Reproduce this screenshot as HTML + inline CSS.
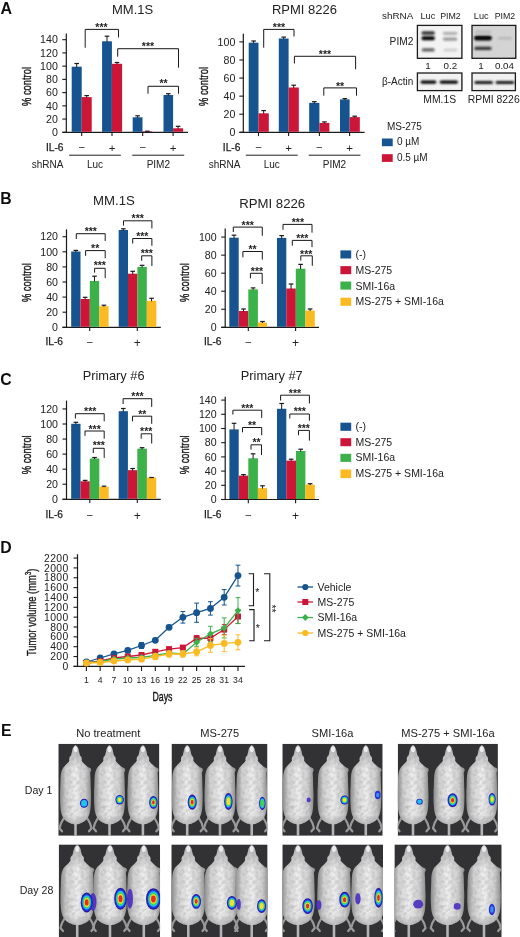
<!DOCTYPE html><html><head><meta charset="utf-8"><style>html,body{margin:0;padding:0;background:#fff;}svg{display:block;}text{font-family:"Liberation Sans", sans-serif;}</style></head><body>
<svg width="520" height="937" viewBox="0 0 520 937">
<rect width="520" height="937" fill="#fff"/>
<defs><filter id="gb" x="0" y="0" width="100%" height="100%" filterUnits="userSpaceOnUse"><feGaussianBlur stdDeviation="0.35"/></filter></defs>
<g filter="url(#gb)">
<text x="0.6" y="13.6" font-size="16" text-anchor="start" font-weight="bold" fill="#111" >A</text>
<text x="132.6" y="13.8" font-size="13" text-anchor="middle" font-weight="normal" fill="#222" >MM.1S</text>
<line x1="66.3" y1="33.5" x2="66.3" y2="132.9" stroke="#1a1a1a" stroke-width="1.2" />
<line x1="62.3" y1="132.3" x2="66.3" y2="132.3" stroke="#1a1a1a" stroke-width="1.1" />
<text x="57.8" y="136" font-size="10.6" text-anchor="end" font-weight="normal" fill="#222" letter-spacing="0">0</text>
<line x1="62.3" y1="119.07" x2="66.3" y2="119.07" stroke="#1a1a1a" stroke-width="1.1" />
<text x="57.8" y="122.77" font-size="10.6" text-anchor="end" font-weight="normal" fill="#222" letter-spacing="0">20</text>
<line x1="62.3" y1="105.84" x2="66.3" y2="105.84" stroke="#1a1a1a" stroke-width="1.1" />
<text x="57.8" y="109.54" font-size="10.6" text-anchor="end" font-weight="normal" fill="#222" letter-spacing="0">40</text>
<line x1="62.3" y1="92.61" x2="66.3" y2="92.61" stroke="#1a1a1a" stroke-width="1.1" />
<text x="57.8" y="96.31" font-size="10.6" text-anchor="end" font-weight="normal" fill="#222" letter-spacing="0">60</text>
<line x1="62.3" y1="79.38" x2="66.3" y2="79.38" stroke="#1a1a1a" stroke-width="1.1" />
<text x="57.8" y="83.08" font-size="10.6" text-anchor="end" font-weight="normal" fill="#222" letter-spacing="0">80</text>
<line x1="62.3" y1="66.15" x2="66.3" y2="66.15" stroke="#1a1a1a" stroke-width="1.1" />
<text x="57.8" y="69.85" font-size="10.6" text-anchor="end" font-weight="normal" fill="#222" letter-spacing="0">100</text>
<line x1="62.3" y1="52.92" x2="66.3" y2="52.92" stroke="#1a1a1a" stroke-width="1.1" />
<text x="57.8" y="56.62" font-size="10.6" text-anchor="end" font-weight="normal" fill="#222" letter-spacing="0">120</text>
<line x1="62.3" y1="39.69" x2="66.3" y2="39.69" stroke="#1a1a1a" stroke-width="1.1" />
<text x="57.8" y="43.39" font-size="10.6" text-anchor="end" font-weight="normal" fill="#222" letter-spacing="0">140</text>
<line x1="62.4" y1="132.3" x2="188" y2="132.3" stroke="#1a1a1a" stroke-width="1.2" />
<line x1="81.7" y1="132.3" x2="81.7" y2="136.1" stroke="#1a1a1a" stroke-width="1.1" />
<line x1="112" y1="132.3" x2="112" y2="136.1" stroke="#1a1a1a" stroke-width="1.1" />
<line x1="142.7" y1="132.3" x2="142.7" y2="136.1" stroke="#1a1a1a" stroke-width="1.1" />
<line x1="173.1" y1="132.3" x2="173.1" y2="136.1" stroke="#1a1a1a" stroke-width="1.1" />
<rect x="71.7" y="66.7" width="10" height="65.1" fill="#13538f" />
<line x1="76.7" y1="63.5" x2="76.7" y2="67.2" stroke="#1a1a1a" stroke-width="1" />
<line x1="74.4" y1="63.5" x2="79" y2="63.5" stroke="#1a1a1a" stroke-width="1.2" />
<rect x="81.7" y="97.1" width="10" height="34.7" fill="#cc1539" />
<line x1="86.7" y1="95.6" x2="86.7" y2="97.6" stroke="#1a1a1a" stroke-width="1" />
<line x1="84.4" y1="95.6" x2="89" y2="95.6" stroke="#1a1a1a" stroke-width="1.2" />
<rect x="102.1" y="41.3" width="9.8" height="90.5" fill="#13538f" />
<line x1="107" y1="36.2" x2="107" y2="41.8" stroke="#1a1a1a" stroke-width="1" />
<line x1="104.7" y1="36.2" x2="109.3" y2="36.2" stroke="#1a1a1a" stroke-width="1.2" />
<rect x="111.9" y="63.8" width="10.2" height="68" fill="#cc1539" />
<line x1="117" y1="62.5" x2="117" y2="64.3" stroke="#1a1a1a" stroke-width="1" />
<line x1="114.7" y1="62.5" x2="119.3" y2="62.5" stroke="#1a1a1a" stroke-width="1.2" />
<rect x="132.7" y="117.3" width="9.8" height="14.5" fill="#13538f" />
<line x1="137.6" y1="115.8" x2="137.6" y2="117.8" stroke="#1a1a1a" stroke-width="1" />
<line x1="135.3" y1="115.8" x2="139.9" y2="115.8" stroke="#1a1a1a" stroke-width="1.2" />
<rect x="142.5" y="131.2" width="9.8" height="0.6" fill="#cc1539" />
<line x1="145.1" y1="131.2" x2="149.7" y2="131.2" stroke="#1a1a1a" stroke-width="1.2" />
<rect x="163.5" y="95" width="9.6" height="36.8" fill="#13538f" />
<line x1="168.3" y1="93.7" x2="168.3" y2="95.5" stroke="#1a1a1a" stroke-width="1" />
<line x1="166" y1="93.7" x2="170.6" y2="93.7" stroke="#1a1a1a" stroke-width="1.2" />
<rect x="173.1" y="128.3" width="10" height="3.5" fill="#cc1539" />
<line x1="178.1" y1="126.3" x2="178.1" y2="128.8" stroke="#1a1a1a" stroke-width="1" />
<line x1="175.8" y1="126.3" x2="180.4" y2="126.3" stroke="#1a1a1a" stroke-width="1.2" />
<polyline points="85.2,47.7 85.2,29.4 118.5,29.4 118.5,37.5" fill="none" stroke="#1a1a1a" stroke-width="1"/>
<text x="101.5" y="30.7" font-size="10.5" text-anchor="middle" font-weight="bold" fill="#222" >***</text>
<polyline points="117.7,56.7 117.7,48.7 178.5,48.7 178.5,67.7" fill="none" stroke="#1a1a1a" stroke-width="1"/>
<text x="148" y="50.1" font-size="10.5" text-anchor="middle" font-weight="bold" fill="#222" >***</text>
<polyline points="148,93.7 148,86.3 178.5,86.3 178.5,93.7" fill="none" stroke="#1a1a1a" stroke-width="1"/>
<text x="163.5" y="87.1" font-size="10.5" text-anchor="middle" font-weight="bold" fill="#222" >**</text>
<text x="63.5" y="150.6" font-size="10.2" text-anchor="end" font-weight="normal" fill="#222" stroke="#1a1a1a" stroke-width="0.25">IL-6</text>
<text x="81.7" y="150.4" font-size="10" text-anchor="middle" font-weight="normal" fill="#222" >–</text>
<text x="142.7" y="150.4" font-size="10" text-anchor="middle" font-weight="normal" fill="#222" >–</text>
<text x="112" y="151.6" font-size="11.5" text-anchor="middle" font-weight="normal" fill="#222" >+</text>
<text x="173.1" y="151.6" font-size="11.5" text-anchor="middle" font-weight="normal" fill="#222" >+</text>
<line x1="69.2" y1="155.2" x2="120.8" y2="155.2" stroke="#1a1a1a" stroke-width="1" />
<line x1="132.3" y1="155.2" x2="184.2" y2="155.2" stroke="#1a1a1a" stroke-width="1" />
<text x="63.5" y="168" font-size="10" text-anchor="end" font-weight="normal" fill="#222" >shRNA</text>
<text x="95" y="168" font-size="10" text-anchor="middle" font-weight="normal" fill="#222" >Luc</text>
<text x="158.3" y="168" font-size="10" text-anchor="middle" font-weight="normal" fill="#222" >PIM2</text>
<text transform="translate(31,86.5) rotate(-90) scale(0.72,1)" font-size="13" text-anchor="middle" fill="#1a1a1a" stroke="#1a1a1a" stroke-width="0.4">% control</text>
<text x="304.4" y="13.8" font-size="13" text-anchor="middle" font-weight="normal" fill="#222" >RPMI 8226</text>
<line x1="243.3" y1="33.7" x2="243.3" y2="132.9" stroke="#1a1a1a" stroke-width="1.2" />
<line x1="239.3" y1="132.3" x2="243.3" y2="132.3" stroke="#1a1a1a" stroke-width="1.1" />
<text x="235.3" y="136" font-size="10.6" text-anchor="end" font-weight="normal" fill="#222" letter-spacing="0">0</text>
<line x1="239.3" y1="114.22" x2="243.3" y2="114.22" stroke="#1a1a1a" stroke-width="1.1" />
<text x="235.3" y="117.92" font-size="10.6" text-anchor="end" font-weight="normal" fill="#222" letter-spacing="0">20</text>
<line x1="239.3" y1="96.14" x2="243.3" y2="96.14" stroke="#1a1a1a" stroke-width="1.1" />
<text x="235.3" y="99.84" font-size="10.6" text-anchor="end" font-weight="normal" fill="#222" letter-spacing="0">40</text>
<line x1="239.3" y1="78.06" x2="243.3" y2="78.06" stroke="#1a1a1a" stroke-width="1.1" />
<text x="235.3" y="81.76" font-size="10.6" text-anchor="end" font-weight="normal" fill="#222" letter-spacing="0">60</text>
<line x1="239.3" y1="59.98" x2="243.3" y2="59.98" stroke="#1a1a1a" stroke-width="1.1" />
<text x="235.3" y="63.68" font-size="10.6" text-anchor="end" font-weight="normal" fill="#222" letter-spacing="0">80</text>
<line x1="239.3" y1="41.9" x2="243.3" y2="41.9" stroke="#1a1a1a" stroke-width="1.1" />
<text x="235.3" y="45.6" font-size="10.6" text-anchor="end" font-weight="normal" fill="#222" letter-spacing="0">100</text>
<line x1="239.4" y1="132.3" x2="364.6" y2="132.3" stroke="#1a1a1a" stroke-width="1.2" />
<line x1="258.5" y1="132.3" x2="258.5" y2="136.1" stroke="#1a1a1a" stroke-width="1.1" />
<line x1="288.6" y1="132.3" x2="288.6" y2="136.1" stroke="#1a1a1a" stroke-width="1.1" />
<line x1="319.4" y1="132.3" x2="319.4" y2="136.1" stroke="#1a1a1a" stroke-width="1.1" />
<line x1="349.6" y1="132.3" x2="349.6" y2="136.1" stroke="#1a1a1a" stroke-width="1.1" />
<rect x="248.7" y="42.7" width="9.8" height="89.1" fill="#13538f" />
<line x1="253.6" y1="41" x2="253.6" y2="43.2" stroke="#1a1a1a" stroke-width="1" />
<line x1="251.3" y1="41" x2="255.9" y2="41" stroke="#1a1a1a" stroke-width="1.2" />
<rect x="258.5" y="113.3" width="10.3" height="18.5" fill="#cc1539" />
<line x1="263.65" y1="110.6" x2="263.65" y2="113.8" stroke="#1a1a1a" stroke-width="1" />
<line x1="261.35" y1="110.6" x2="265.95" y2="110.6" stroke="#1a1a1a" stroke-width="1.2" />
<rect x="278.8" y="38.5" width="9.8" height="93.3" fill="#13538f" />
<line x1="283.7" y1="37.1" x2="283.7" y2="39" stroke="#1a1a1a" stroke-width="1" />
<line x1="281.4" y1="37.1" x2="286" y2="37.1" stroke="#1a1a1a" stroke-width="1.2" />
<rect x="288.6" y="87.5" width="10.2" height="44.3" fill="#cc1539" />
<line x1="293.7" y1="85.2" x2="293.7" y2="88" stroke="#1a1a1a" stroke-width="1" />
<line x1="291.4" y1="85.2" x2="296" y2="85.2" stroke="#1a1a1a" stroke-width="1.2" />
<rect x="309.2" y="102.9" width="10.2" height="28.9" fill="#13538f" />
<line x1="314.3" y1="101.7" x2="314.3" y2="103.4" stroke="#1a1a1a" stroke-width="1" />
<line x1="312" y1="101.7" x2="316.6" y2="101.7" stroke="#1a1a1a" stroke-width="1.2" />
<rect x="319.4" y="122.9" width="10" height="8.9" fill="#cc1539" />
<line x1="324.4" y1="121.9" x2="324.4" y2="123.4" stroke="#1a1a1a" stroke-width="1" />
<line x1="322.1" y1="121.9" x2="326.7" y2="121.9" stroke="#1a1a1a" stroke-width="1.2" />
<rect x="340" y="99.4" width="9.6" height="32.4" fill="#13538f" />
<line x1="344.8" y1="98.6" x2="344.8" y2="99.9" stroke="#1a1a1a" stroke-width="1" />
<line x1="342.5" y1="98.6" x2="347.1" y2="98.6" stroke="#1a1a1a" stroke-width="1.2" />
<rect x="349.6" y="117.1" width="10.2" height="14.7" fill="#cc1539" />
<line x1="354.7" y1="116.2" x2="354.7" y2="117.6" stroke="#1a1a1a" stroke-width="1" />
<line x1="352.4" y1="116.2" x2="357" y2="116.2" stroke="#1a1a1a" stroke-width="1.2" />
<polyline points="263.7,47.7 263.7,29.4 294,29.4 294,36.5" fill="none" stroke="#1a1a1a" stroke-width="1"/>
<text x="279" y="30.7" font-size="10.5" text-anchor="middle" font-weight="bold" fill="#222" >***</text>
<polyline points="294.4,63.5 294.4,56.3 355.6,56.3 355.6,69.2" fill="none" stroke="#1a1a1a" stroke-width="1"/>
<text x="325" y="57.8" font-size="10.5" text-anchor="middle" font-weight="bold" fill="#222" >***</text>
<polyline points="323.8,95.6 323.8,87.9 356.5,87.9 356.5,95.6" fill="none" stroke="#1a1a1a" stroke-width="1"/>
<text x="340" y="89.6" font-size="10.5" text-anchor="middle" font-weight="bold" fill="#222" >**</text>
<text x="240.4" y="150.6" font-size="10.2" text-anchor="end" font-weight="normal" fill="#222" stroke="#1a1a1a" stroke-width="0.25">IL-6</text>
<text x="258.5" y="150.4" font-size="10" text-anchor="middle" font-weight="normal" fill="#222" >–</text>
<text x="319.4" y="150.4" font-size="10" text-anchor="middle" font-weight="normal" fill="#222" >–</text>
<text x="288.6" y="151.6" font-size="11.5" text-anchor="middle" font-weight="normal" fill="#222" >+</text>
<text x="349.6" y="151.6" font-size="11.5" text-anchor="middle" font-weight="normal" fill="#222" >+</text>
<line x1="245.8" y1="155.2" x2="297.7" y2="155.2" stroke="#1a1a1a" stroke-width="1" />
<line x1="308.8" y1="155.2" x2="360.4" y2="155.2" stroke="#1a1a1a" stroke-width="1" />
<text x="240.4" y="168" font-size="10" text-anchor="end" font-weight="normal" fill="#222" >shRNA</text>
<text x="271.7" y="168" font-size="10" text-anchor="middle" font-weight="normal" fill="#222" >Luc</text>
<text x="334.4" y="168" font-size="10" text-anchor="middle" font-weight="normal" fill="#222" >PIM2</text>
<text transform="translate(207.8,86.5) rotate(-90) scale(0.72,1)" font-size="13" text-anchor="middle" fill="#1a1a1a" stroke="#1a1a1a" stroke-width="0.4">% control</text>
<text x="413.3" y="18.7" font-size="9.9" text-anchor="end" font-weight="normal" fill="#222" >shRNA</text>
<text x="427.9" y="18.7" font-size="9.2" text-anchor="middle" font-weight="normal" fill="#222" >Luc</text>
<text x="450.4" y="18.7" font-size="8.8" text-anchor="middle" font-weight="normal" fill="#222" >PIM2</text>
<text x="481.2" y="18.7" font-size="9.2" text-anchor="middle" font-weight="normal" fill="#222" >Luc</text>
<text x="505" y="18.7" font-size="8.8" text-anchor="middle" font-weight="normal" fill="#222" >PIM2</text>
<defs><filter id="bl" x="-20%" y="-80%" width="140%" height="260%"><feGaussianBlur stdDeviation="0.95 0.8"/></filter></defs>
<rect x="417.4" y="25.4" width="44.5" height="32.9" fill="#f3f3f3" stroke="#1a1a1a" stroke-width="1.3"/>
<rect x="472" y="25.4" width="43.8" height="32.9" fill="#d4d4d4" stroke="#1a1a1a" stroke-width="1.3"/>
<g filter="url(#bl)">
<rect x="421.5" y="31.4" width="13.4" height="3" rx="1.5" fill="#1a1a1a"/>
<rect x="421.5" y="36.2" width="13.4" height="4" rx="2" fill="#000"/>
<rect x="421.7" y="48.3" width="13" height="3.2" rx="1.6" fill="#606060"/>
<rect x="442.9" y="31.9" width="14.4" height="2.8" rx="1.4" fill="#a8a8a8"/>
<rect x="442.9" y="37.5" width="14.4" height="3.2" rx="1.6" fill="#989898"/>
<rect x="443.5" y="48.7" width="13.8" height="2.6" rx="1.3" fill="#cacaca"/>
<rect x="474.5" y="30" width="17" height="4" rx="2" fill="#c0c0c0"/>
<rect x="474.1" y="35.4" width="17.7" height="5" rx="2.5" fill="#000"/>
<rect x="474.3" y="46.7" width="17.3" height="3.4" rx="1.7" fill="#333"/>
<rect x="497.8" y="37" width="14" height="2.6" rx="1.3" fill="#b8b8b8"/>
</g>
<text x="428" y="69" font-size="9.8" text-anchor="middle" font-weight="normal" fill="#222" >1</text>
<text x="450.3" y="69" font-size="9.8" text-anchor="middle" font-weight="normal" fill="#222" >0.2</text>
<text x="480.9" y="69" font-size="9.8" text-anchor="middle" font-weight="normal" fill="#222" >1</text>
<text x="504.5" y="69" font-size="9.8" text-anchor="middle" font-weight="normal" fill="#222" >0.04</text>
<text x="413.4" y="44.9" font-size="10.2" text-anchor="end" font-weight="normal" fill="#222" >PIM2</text>
<rect x="417.4" y="73" width="44.5" height="17.6" fill="#f3f3f3" stroke="#1a1a1a" stroke-width="1.3"/>
<rect x="472" y="73" width="43.4" height="17.6" fill="#f0f0f0" stroke="#1a1a1a" stroke-width="1.3"/>
<g filter="url(#bl)">
<rect x="420.5" y="80.4" width="15.9" height="3.4" rx="1.7" fill="#050505"/>
<rect x="439.6" y="80.4" width="18.4" height="3.4" rx="1.7" fill="#050505"/>
<rect x="474.4" y="81" width="18.6" height="3" rx="1.5" fill="#161616"/>
<rect x="495.6" y="81" width="18.6" height="3" rx="1.5" fill="#161616"/>
</g>
<text x="413.3" y="85" font-size="10" text-anchor="end" font-weight="normal" fill="#222" >β-Actin</text>
<text x="439.7" y="102.7" font-size="10.4" text-anchor="middle" font-weight="normal" fill="#222" >MM.1S</text>
<text x="493.7" y="102.7" font-size="10.4" text-anchor="middle" font-weight="normal" fill="#222" >RPMI 8226</text>
<text x="386.9" y="129.8" font-size="10" text-anchor="start" font-weight="normal" fill="#222" >MS-275</text>
<rect x="381.9" y="138.5" width="10.8" height="7.7" fill="#13538f" />
<text x="396.9" y="145.2" font-size="10" text-anchor="start" font-weight="normal" fill="#222" >0 µM</text>
<rect x="381.9" y="154.2" width="10.8" height="7.7" fill="#cc1539" />
<text x="396.9" y="161.2" font-size="10" text-anchor="start" font-weight="normal" fill="#222" >0.5 µM</text>
<text x="0.2" y="204.4" font-size="15.8" text-anchor="start" font-weight="bold" fill="#111" >B</text>
<text x="113.9" y="204.8" font-size="13.2" text-anchor="middle" font-weight="normal" fill="#222" >MM.1S</text>
<line x1="66.5" y1="229.4" x2="66.5" y2="327.9" stroke="#1a1a1a" stroke-width="1.2" />
<line x1="62.5" y1="327.3" x2="66.5" y2="327.3" stroke="#1a1a1a" stroke-width="1.1" />
<text x="58" y="331" font-size="10.6" text-anchor="end" font-weight="normal" fill="#222" letter-spacing="0">0</text>
<line x1="62.5" y1="312.2" x2="66.5" y2="312.2" stroke="#1a1a1a" stroke-width="1.1" />
<text x="58" y="315.9" font-size="10.6" text-anchor="end" font-weight="normal" fill="#222" letter-spacing="0">20</text>
<line x1="62.5" y1="297.1" x2="66.5" y2="297.1" stroke="#1a1a1a" stroke-width="1.1" />
<text x="58" y="300.8" font-size="10.6" text-anchor="end" font-weight="normal" fill="#222" letter-spacing="0">40</text>
<line x1="62.5" y1="282" x2="66.5" y2="282" stroke="#1a1a1a" stroke-width="1.1" />
<text x="58" y="285.7" font-size="10.6" text-anchor="end" font-weight="normal" fill="#222" letter-spacing="0">60</text>
<line x1="62.5" y1="266.9" x2="66.5" y2="266.9" stroke="#1a1a1a" stroke-width="1.1" />
<text x="58" y="270.6" font-size="10.6" text-anchor="end" font-weight="normal" fill="#222" letter-spacing="0">80</text>
<line x1="62.5" y1="251.8" x2="66.5" y2="251.8" stroke="#1a1a1a" stroke-width="1.1" />
<text x="58" y="255.5" font-size="10.6" text-anchor="end" font-weight="normal" fill="#222" letter-spacing="0">100</text>
<line x1="62.5" y1="236.7" x2="66.5" y2="236.7" stroke="#1a1a1a" stroke-width="1.1" />
<text x="58" y="240.4" font-size="10.6" text-anchor="end" font-weight="normal" fill="#222" letter-spacing="0">120</text>
<line x1="62.5" y1="327.3" x2="160.8" y2="327.3" stroke="#1a1a1a" stroke-width="1.2" />
<line x1="89.7" y1="327.3" x2="89.7" y2="331.1" stroke="#1a1a1a" stroke-width="1.1" />
<line x1="137.3" y1="327.3" x2="137.3" y2="331.1" stroke="#1a1a1a" stroke-width="1.1" />
<rect x="71.2" y="251.5" width="9.3" height="75.3" fill="#13538f" />
<line x1="75.85" y1="250.4" x2="75.85" y2="252" stroke="#1a1a1a" stroke-width="1" />
<line x1="73.55" y1="250.4" x2="78.15" y2="250.4" stroke="#1a1a1a" stroke-width="1.2" />
<rect x="80.5" y="299" width="9.3" height="27.8" fill="#cc1539" />
<line x1="85.15" y1="297.3" x2="85.15" y2="299.5" stroke="#1a1a1a" stroke-width="1" />
<line x1="82.85" y1="297.3" x2="87.45" y2="297.3" stroke="#1a1a1a" stroke-width="1.2" />
<rect x="89.8" y="281" width="9.4" height="45.8" fill="#3cb14a" />
<line x1="94.5" y1="276.2" x2="94.5" y2="281.5" stroke="#1a1a1a" stroke-width="1" />
<line x1="92.2" y1="276.2" x2="96.8" y2="276.2" stroke="#1a1a1a" stroke-width="1.2" />
<rect x="99.2" y="306.2" width="9.4" height="20.6" fill="#fbba22" />
<line x1="103.9" y1="305.2" x2="103.9" y2="306.7" stroke="#1a1a1a" stroke-width="1" />
<line x1="101.6" y1="305.2" x2="106.2" y2="305.2" stroke="#1a1a1a" stroke-width="1.2" />
<rect x="118.7" y="230" width="9.3" height="96.8" fill="#13538f" />
<line x1="123.35" y1="228.8" x2="123.35" y2="230.5" stroke="#1a1a1a" stroke-width="1" />
<line x1="121.05" y1="228.8" x2="125.65" y2="228.8" stroke="#1a1a1a" stroke-width="1.2" />
<rect x="128" y="273.7" width="9.4" height="53.1" fill="#cc1539" />
<line x1="132.7" y1="271.3" x2="132.7" y2="274.2" stroke="#1a1a1a" stroke-width="1" />
<line x1="130.4" y1="271.3" x2="135" y2="271.3" stroke="#1a1a1a" stroke-width="1.2" />
<rect x="137.4" y="266.9" width="9.4" height="59.9" fill="#3cb14a" />
<line x1="142.1" y1="265.3" x2="142.1" y2="267.4" stroke="#1a1a1a" stroke-width="1" />
<line x1="139.8" y1="265.3" x2="144.4" y2="265.3" stroke="#1a1a1a" stroke-width="1.2" />
<rect x="146.8" y="300.8" width="9.5" height="26" fill="#fbba22" />
<line x1="151.55" y1="298.3" x2="151.55" y2="301.3" stroke="#1a1a1a" stroke-width="1" />
<line x1="149.25" y1="298.3" x2="153.85" y2="298.3" stroke="#1a1a1a" stroke-width="1.2" />
<polyline points="76.3,239 76.3,233.7 105.2,233.7 105.2,241" fill="none" stroke="#1a1a1a" stroke-width="1"/>
<text x="90.8" y="235.1" font-size="10.5" text-anchor="middle" font-weight="bold" fill="#222" >***</text>
<polyline points="85.6,255.8 85.6,250.6 105.2,250.6 105.2,258.3" fill="none" stroke="#1a1a1a" stroke-width="1"/>
<text x="95.2" y="252.1" font-size="10.5" text-anchor="middle" font-weight="bold" fill="#222" >**</text>
<polyline points="94.6,272.7 94.6,268.3 105.2,268.3 105.2,278.1" fill="none" stroke="#1a1a1a" stroke-width="1"/>
<text x="99.8" y="269.3" font-size="10.5" text-anchor="middle" font-weight="bold" fill="#222" >***</text>
<polyline points="123.5,225.6 123.5,220.8 151.9,220.8 151.9,228.5" fill="none" stroke="#1a1a1a" stroke-width="1"/>
<text x="137.7" y="222.3" font-size="10.5" text-anchor="middle" font-weight="bold" fill="#222" >***</text>
<polyline points="132.7,243.5 132.7,238.5 151.9,238.5 151.9,245.8" fill="none" stroke="#1a1a1a" stroke-width="1"/>
<text x="142.3" y="240" font-size="10.5" text-anchor="middle" font-weight="bold" fill="#222" >***</text>
<polyline points="141.7,260.8 141.7,255.8 151.9,255.8 151.9,266" fill="none" stroke="#1a1a1a" stroke-width="1"/>
<text x="146.8" y="257.3" font-size="10.5" text-anchor="middle" font-weight="bold" fill="#222" >***</text>
<text x="63" y="345.4" font-size="10.2" text-anchor="end" font-weight="normal" fill="#222" stroke="#1a1a1a" stroke-width="0.25">IL-6</text>
<text x="89.7" y="345.4" font-size="10" text-anchor="middle" font-weight="normal" fill="#222" >–</text>
<text x="137.3" y="346.9" font-size="12" text-anchor="middle" font-weight="normal" fill="#222" >+</text>
<text transform="translate(31,282.6) rotate(-90) scale(0.72,1)" font-size="13" text-anchor="middle" fill="#1a1a1a" stroke="#1a1a1a" stroke-width="0.4">% control</text>
<text x="272.2" y="207.6" font-size="13.2" text-anchor="middle" font-weight="normal" fill="#222" >RPMI 8226</text>
<line x1="225.2" y1="228.5" x2="225.2" y2="327.9" stroke="#1a1a1a" stroke-width="1.2" />
<line x1="221.2" y1="327.3" x2="225.2" y2="327.3" stroke="#1a1a1a" stroke-width="1.1" />
<text x="216.6" y="331" font-size="10.6" text-anchor="end" font-weight="normal" fill="#222" letter-spacing="0">0</text>
<line x1="221.2" y1="309.26" x2="225.2" y2="309.26" stroke="#1a1a1a" stroke-width="1.1" />
<text x="216.6" y="312.96" font-size="10.6" text-anchor="end" font-weight="normal" fill="#222" letter-spacing="0">20</text>
<line x1="221.2" y1="291.22" x2="225.2" y2="291.22" stroke="#1a1a1a" stroke-width="1.1" />
<text x="216.6" y="294.92" font-size="10.6" text-anchor="end" font-weight="normal" fill="#222" letter-spacing="0">40</text>
<line x1="221.2" y1="273.18" x2="225.2" y2="273.18" stroke="#1a1a1a" stroke-width="1.1" />
<text x="216.6" y="276.88" font-size="10.6" text-anchor="end" font-weight="normal" fill="#222" letter-spacing="0">60</text>
<line x1="221.2" y1="255.14" x2="225.2" y2="255.14" stroke="#1a1a1a" stroke-width="1.1" />
<text x="216.6" y="258.84" font-size="10.6" text-anchor="end" font-weight="normal" fill="#222" letter-spacing="0">80</text>
<line x1="221.2" y1="237.1" x2="225.2" y2="237.1" stroke="#1a1a1a" stroke-width="1.1" />
<text x="216.6" y="240.8" font-size="10.6" text-anchor="end" font-weight="normal" fill="#222" letter-spacing="0">100</text>
<line x1="221.2" y1="327.3" x2="319" y2="327.3" stroke="#1a1a1a" stroke-width="1.2" />
<line x1="248.3" y1="327.3" x2="248.3" y2="331.1" stroke="#1a1a1a" stroke-width="1.1" />
<line x1="295.6" y1="327.3" x2="295.6" y2="331.1" stroke="#1a1a1a" stroke-width="1.1" />
<rect x="229.3" y="237.7" width="9.4" height="89.1" fill="#13538f" />
<line x1="234" y1="235.2" x2="234" y2="238.2" stroke="#1a1a1a" stroke-width="1" />
<line x1="231.7" y1="235.2" x2="236.3" y2="235.2" stroke="#1a1a1a" stroke-width="1.2" />
<rect x="238.7" y="311" width="9.6" height="15.8" fill="#cc1539" />
<line x1="243.5" y1="309" x2="243.5" y2="311.5" stroke="#1a1a1a" stroke-width="1" />
<line x1="241.2" y1="309" x2="245.8" y2="309" stroke="#1a1a1a" stroke-width="1.2" />
<rect x="248.3" y="289.4" width="9.6" height="37.4" fill="#3cb14a" />
<line x1="253.1" y1="287.9" x2="253.1" y2="289.9" stroke="#1a1a1a" stroke-width="1" />
<line x1="250.8" y1="287.9" x2="255.4" y2="287.9" stroke="#1a1a1a" stroke-width="1.2" />
<rect x="257.9" y="322.5" width="9.2" height="4.3" fill="#fbba22" />
<line x1="262.5" y1="321.5" x2="262.5" y2="323" stroke="#1a1a1a" stroke-width="1" />
<line x1="260.2" y1="321.5" x2="264.8" y2="321.5" stroke="#1a1a1a" stroke-width="1.2" />
<rect x="277" y="237.9" width="9.3" height="88.9" fill="#13538f" />
<line x1="281.65" y1="235.6" x2="281.65" y2="238.4" stroke="#1a1a1a" stroke-width="1" />
<line x1="279.35" y1="235.6" x2="283.95" y2="235.6" stroke="#1a1a1a" stroke-width="1.2" />
<rect x="286.3" y="288.5" width="9.5" height="38.3" fill="#cc1539" />
<line x1="291.05" y1="284" x2="291.05" y2="289" stroke="#1a1a1a" stroke-width="1" />
<line x1="288.75" y1="284" x2="293.35" y2="284" stroke="#1a1a1a" stroke-width="1.2" />
<rect x="295.8" y="268.7" width="9.6" height="58.1" fill="#3cb14a" />
<line x1="300.6" y1="264.4" x2="300.6" y2="269.2" stroke="#1a1a1a" stroke-width="1" />
<line x1="298.3" y1="264.4" x2="302.9" y2="264.4" stroke="#1a1a1a" stroke-width="1.2" />
<rect x="305.4" y="310.6" width="9.4" height="16.2" fill="#fbba22" />
<line x1="310.1" y1="309" x2="310.1" y2="311.1" stroke="#1a1a1a" stroke-width="1" />
<line x1="307.8" y1="309" x2="312.4" y2="309" stroke="#1a1a1a" stroke-width="1.2" />
<polyline points="233.3,232 233.3,227.1 262.3,227.1 262.3,235.8" fill="none" stroke="#1a1a1a" stroke-width="1"/>
<text x="247.7" y="229" font-size="10.5" text-anchor="middle" font-weight="bold" fill="#222" >***</text>
<polyline points="242.9,257.3 242.9,251.5 262.3,251.5 262.3,259.6" fill="none" stroke="#1a1a1a" stroke-width="1"/>
<text x="252.5" y="253.4" font-size="10.5" text-anchor="middle" font-weight="bold" fill="#222" >**</text>
<polyline points="250.4,278.3 250.4,273.3 262.2,273.3 262.2,284" fill="none" stroke="#1a1a1a" stroke-width="1"/>
<text x="257" y="275.1" font-size="10.5" text-anchor="middle" font-weight="bold" fill="#222" >***</text>
<polyline points="283,229.8 283,224.4 312,224.4 312,232.7" fill="none" stroke="#1a1a1a" stroke-width="1"/>
<text x="297.9" y="226.1" font-size="10.5" text-anchor="middle" font-weight="bold" fill="#222" >***</text>
<polyline points="292.3,245.6 292.3,240.4 312,240.4 312,247.1" fill="none" stroke="#1a1a1a" stroke-width="1"/>
<text x="302.3" y="241.9" font-size="10.5" text-anchor="middle" font-weight="bold" fill="#222" >***</text>
<polyline points="300.8,260.6 300.8,255.8 312.3,255.8 312.3,265.8" fill="none" stroke="#1a1a1a" stroke-width="1"/>
<text x="306.2" y="257.6" font-size="10.5" text-anchor="middle" font-weight="bold" fill="#222" >***</text>
<text x="221.5" y="345.3" font-size="10.2" text-anchor="end" font-weight="normal" fill="#222" stroke="#1a1a1a" stroke-width="0.25">IL-6</text>
<text x="248.3" y="345.2" font-size="10" text-anchor="middle" font-weight="normal" fill="#222" >–</text>
<text x="295.6" y="346.9" font-size="12" text-anchor="middle" font-weight="normal" fill="#222" >+</text>
<text transform="translate(189.4,282.6) rotate(-90) scale(0.72,1)" font-size="13" text-anchor="middle" fill="#1a1a1a" stroke="#1a1a1a" stroke-width="0.4">% control</text>
<rect x="340.4" y="250.4" width="10.8" height="8.1" fill="#13538f" />
<text x="355.4" y="258" font-size="10.5" text-anchor="start" font-weight="normal" fill="#222" >(-)</text>
<rect x="340.4" y="266.1" width="10.8" height="8.1" fill="#cc1539" />
<text x="355.4" y="273.9" font-size="10.5" text-anchor="start" font-weight="normal" fill="#222" >MS-275</text>
<rect x="340.4" y="281.5" width="10.8" height="8.1" fill="#3cb14a" />
<text x="355.4" y="289.6" font-size="10.5" text-anchor="start" font-weight="normal" fill="#222" >SMI-16a</text>
<rect x="340.4" y="297.7" width="10.8" height="8.1" fill="#fbba22" />
<text x="355.4" y="305.1" font-size="10.5" text-anchor="start" font-weight="normal" fill="#222" >MS-275 + SMI-16a</text>
<text x="0.3" y="384.7" font-size="15.8" text-anchor="start" font-weight="bold" fill="#111" >C</text>
<text x="113.6" y="379.7" font-size="12.8" text-anchor="middle" font-weight="normal" fill="#222" >Primary #6</text>
<line x1="66.5" y1="400.6" x2="66.5" y2="499.9" stroke="#1a1a1a" stroke-width="1.2" />
<line x1="62.5" y1="499.3" x2="66.5" y2="499.3" stroke="#1a1a1a" stroke-width="1.1" />
<text x="58" y="503" font-size="10.6" text-anchor="end" font-weight="normal" fill="#222" letter-spacing="0">0</text>
<line x1="62.5" y1="484.24" x2="66.5" y2="484.24" stroke="#1a1a1a" stroke-width="1.1" />
<text x="58" y="487.94" font-size="10.6" text-anchor="end" font-weight="normal" fill="#222" letter-spacing="0">20</text>
<line x1="62.5" y1="469.18" x2="66.5" y2="469.18" stroke="#1a1a1a" stroke-width="1.1" />
<text x="58" y="472.88" font-size="10.6" text-anchor="end" font-weight="normal" fill="#222" letter-spacing="0">40</text>
<line x1="62.5" y1="454.12" x2="66.5" y2="454.12" stroke="#1a1a1a" stroke-width="1.1" />
<text x="58" y="457.82" font-size="10.6" text-anchor="end" font-weight="normal" fill="#222" letter-spacing="0">60</text>
<line x1="62.5" y1="439.06" x2="66.5" y2="439.06" stroke="#1a1a1a" stroke-width="1.1" />
<text x="58" y="442.76" font-size="10.6" text-anchor="end" font-weight="normal" fill="#222" letter-spacing="0">80</text>
<line x1="62.5" y1="424" x2="66.5" y2="424" stroke="#1a1a1a" stroke-width="1.1" />
<text x="58" y="427.7" font-size="10.6" text-anchor="end" font-weight="normal" fill="#222" letter-spacing="0">100</text>
<line x1="62.5" y1="408.94" x2="66.5" y2="408.94" stroke="#1a1a1a" stroke-width="1.1" />
<text x="58" y="412.64" font-size="10.6" text-anchor="end" font-weight="normal" fill="#222" letter-spacing="0">120</text>
<line x1="62.5" y1="499.3" x2="160.8" y2="499.3" stroke="#1a1a1a" stroke-width="1.2" />
<line x1="89.8" y1="499.3" x2="89.8" y2="503.1" stroke="#1a1a1a" stroke-width="1.1" />
<line x1="137.3" y1="499.3" x2="137.3" y2="503.1" stroke="#1a1a1a" stroke-width="1.1" />
<rect x="71.2" y="423.8" width="9.3" height="75" fill="#13538f" />
<line x1="75.85" y1="422.3" x2="75.85" y2="424.3" stroke="#1a1a1a" stroke-width="1" />
<line x1="73.55" y1="422.3" x2="78.15" y2="422.3" stroke="#1a1a1a" stroke-width="1.2" />
<rect x="80.5" y="481.3" width="9.3" height="17.5" fill="#cc1539" />
<line x1="85.15" y1="480.4" x2="85.15" y2="481.8" stroke="#1a1a1a" stroke-width="1" />
<line x1="82.85" y1="480.4" x2="87.45" y2="480.4" stroke="#1a1a1a" stroke-width="1.2" />
<rect x="89.8" y="458.5" width="9.5" height="40.3" fill="#3cb14a" />
<line x1="94.55" y1="457.5" x2="94.55" y2="459" stroke="#1a1a1a" stroke-width="1" />
<line x1="92.25" y1="457.5" x2="96.85" y2="457.5" stroke="#1a1a1a" stroke-width="1.2" />
<rect x="99.3" y="486.7" width="9.4" height="12.1" fill="#fbba22" />
<line x1="104" y1="486.2" x2="104" y2="487.2" stroke="#1a1a1a" stroke-width="1" />
<line x1="101.7" y1="486.2" x2="106.3" y2="486.2" stroke="#1a1a1a" stroke-width="1.2" />
<rect x="118.7" y="411.2" width="9.2" height="87.6" fill="#13538f" />
<line x1="123.3" y1="408.5" x2="123.3" y2="411.7" stroke="#1a1a1a" stroke-width="1" />
<line x1="121" y1="408.5" x2="125.6" y2="408.5" stroke="#1a1a1a" stroke-width="1.2" />
<rect x="127.9" y="470.2" width="9.4" height="28.6" fill="#cc1539" />
<line x1="132.6" y1="468.5" x2="132.6" y2="470.7" stroke="#1a1a1a" stroke-width="1" />
<line x1="130.3" y1="468.5" x2="134.9" y2="468.5" stroke="#1a1a1a" stroke-width="1.2" />
<rect x="137.3" y="448.7" width="9.6" height="50.1" fill="#3cb14a" />
<line x1="142.1" y1="447.7" x2="142.1" y2="449.2" stroke="#1a1a1a" stroke-width="1" />
<line x1="139.8" y1="447.7" x2="144.4" y2="447.7" stroke="#1a1a1a" stroke-width="1.2" />
<rect x="146.9" y="477.5" width="9.3" height="21.3" fill="#fbba22" />
<line x1="149.25" y1="477.5" x2="153.85" y2="477.5" stroke="#1a1a1a" stroke-width="1.2" />
<polyline points="75.4,418.5 75.4,413.7 104.2,413.7 104.2,421.3" fill="none" stroke="#1a1a1a" stroke-width="1"/>
<text x="90.2" y="415.1" font-size="10.5" text-anchor="middle" font-weight="bold" fill="#222" >***</text>
<polyline points="85,435.8 85,431 104.2,431 104.2,438.7" fill="none" stroke="#1a1a1a" stroke-width="1"/>
<text x="94.6" y="432.5" font-size="10.5" text-anchor="middle" font-weight="bold" fill="#222" >***</text>
<polyline points="93.3,453 93.3,448.3 104.2,448.3 104.2,457.9" fill="none" stroke="#1a1a1a" stroke-width="1"/>
<text x="98.8" y="449.4" font-size="10.5" text-anchor="middle" font-weight="bold" fill="#222" >***</text>
<polyline points="123.1,404 123.1,398.7 151.7,398.7 151.7,406.9" fill="none" stroke="#1a1a1a" stroke-width="1"/>
<text x="137.5" y="400.3" font-size="10.5" text-anchor="middle" font-weight="bold" fill="#222" >***</text>
<polyline points="132.5,421.3 132.5,416.2 151.7,416.2 151.7,423.8" fill="none" stroke="#1a1a1a" stroke-width="1"/>
<text x="142.3" y="418" font-size="10.5" text-anchor="middle" font-weight="bold" fill="#222" >**</text>
<polyline points="141.2,438.7 141.2,433.8 151.7,433.8 151.7,443.5" fill="none" stroke="#1a1a1a" stroke-width="1"/>
<text x="146.2" y="435.3" font-size="10.5" text-anchor="middle" font-weight="bold" fill="#222" >***</text>
<text x="63" y="518" font-size="10.2" text-anchor="end" font-weight="normal" fill="#222" stroke="#1a1a1a" stroke-width="0.25">IL-6</text>
<text x="89.8" y="518" font-size="10" text-anchor="middle" font-weight="normal" fill="#222" >–</text>
<text x="137.3" y="519.5" font-size="12" text-anchor="middle" font-weight="normal" fill="#222" >+</text>
<text transform="translate(31,454.8) rotate(-90) scale(0.72,1)" font-size="13" text-anchor="middle" fill="#1a1a1a" stroke="#1a1a1a" stroke-width="0.4">% control</text>
<text x="271.7" y="379.5" font-size="12.8" text-anchor="middle" font-weight="normal" fill="#222" >Primary #7</text>
<line x1="225.2" y1="396.7" x2="225.2" y2="500.1" stroke="#1a1a1a" stroke-width="1.2" />
<line x1="221.2" y1="499.5" x2="225.2" y2="499.5" stroke="#1a1a1a" stroke-width="1.1" />
<text x="216.6" y="503.2" font-size="10.6" text-anchor="end" font-weight="normal" fill="#222" letter-spacing="0">0</text>
<line x1="221.2" y1="485.3" x2="225.2" y2="485.3" stroke="#1a1a1a" stroke-width="1.1" />
<text x="216.6" y="489" font-size="10.6" text-anchor="end" font-weight="normal" fill="#222" letter-spacing="0">20</text>
<line x1="221.2" y1="471.1" x2="225.2" y2="471.1" stroke="#1a1a1a" stroke-width="1.1" />
<text x="216.6" y="474.8" font-size="10.6" text-anchor="end" font-weight="normal" fill="#222" letter-spacing="0">40</text>
<line x1="221.2" y1="456.9" x2="225.2" y2="456.9" stroke="#1a1a1a" stroke-width="1.1" />
<text x="216.6" y="460.6" font-size="10.6" text-anchor="end" font-weight="normal" fill="#222" letter-spacing="0">60</text>
<line x1="221.2" y1="442.7" x2="225.2" y2="442.7" stroke="#1a1a1a" stroke-width="1.1" />
<text x="216.6" y="446.4" font-size="10.6" text-anchor="end" font-weight="normal" fill="#222" letter-spacing="0">80</text>
<line x1="221.2" y1="428.5" x2="225.2" y2="428.5" stroke="#1a1a1a" stroke-width="1.1" />
<text x="216.6" y="432.2" font-size="10.6" text-anchor="end" font-weight="normal" fill="#222" letter-spacing="0">100</text>
<line x1="221.2" y1="414.3" x2="225.2" y2="414.3" stroke="#1a1a1a" stroke-width="1.1" />
<text x="216.6" y="418" font-size="10.6" text-anchor="end" font-weight="normal" fill="#222" letter-spacing="0">120</text>
<line x1="221.2" y1="400.1" x2="225.2" y2="400.1" stroke="#1a1a1a" stroke-width="1.1" />
<text x="216.6" y="403.8" font-size="10.6" text-anchor="end" font-weight="normal" fill="#222" letter-spacing="0">140</text>
<line x1="221.2" y1="499.5" x2="319" y2="499.5" stroke="#1a1a1a" stroke-width="1.2" />
<line x1="248.3" y1="499.5" x2="248.3" y2="503.3" stroke="#1a1a1a" stroke-width="1.1" />
<line x1="295.6" y1="499.5" x2="295.6" y2="503.3" stroke="#1a1a1a" stroke-width="1.1" />
<rect x="229.4" y="429.4" width="9.3" height="69.6" fill="#13538f" />
<line x1="234.05" y1="423.3" x2="234.05" y2="429.9" stroke="#1a1a1a" stroke-width="1" />
<line x1="231.75" y1="423.3" x2="236.35" y2="423.3" stroke="#1a1a1a" stroke-width="1.2" />
<rect x="238.7" y="475.6" width="9.6" height="23.4" fill="#cc1539" />
<line x1="243.5" y1="474.6" x2="243.5" y2="476.1" stroke="#1a1a1a" stroke-width="1" />
<line x1="241.2" y1="474.6" x2="245.8" y2="474.6" stroke="#1a1a1a" stroke-width="1.2" />
<rect x="248.3" y="458.3" width="9.6" height="40.7" fill="#3cb14a" />
<line x1="253.1" y1="453.8" x2="253.1" y2="458.8" stroke="#1a1a1a" stroke-width="1" />
<line x1="250.8" y1="453.8" x2="255.4" y2="453.8" stroke="#1a1a1a" stroke-width="1.2" />
<rect x="257.9" y="488.1" width="9.2" height="10.9" fill="#fbba22" />
<line x1="262.5" y1="485.8" x2="262.5" y2="488.6" stroke="#1a1a1a" stroke-width="1" />
<line x1="260.2" y1="485.8" x2="264.8" y2="485.8" stroke="#1a1a1a" stroke-width="1.2" />
<rect x="277" y="408.8" width="9.3" height="90.2" fill="#13538f" />
<line x1="281.65" y1="403.5" x2="281.65" y2="409.3" stroke="#1a1a1a" stroke-width="1" />
<line x1="279.35" y1="403.5" x2="283.95" y2="403.5" stroke="#1a1a1a" stroke-width="1.2" />
<rect x="286.3" y="460.6" width="9.7" height="38.4" fill="#cc1539" />
<line x1="291.15" y1="459.2" x2="291.15" y2="461.1" stroke="#1a1a1a" stroke-width="1" />
<line x1="288.85" y1="459.2" x2="293.45" y2="459.2" stroke="#1a1a1a" stroke-width="1.2" />
<rect x="296" y="451" width="9.4" height="48" fill="#3cb14a" />
<line x1="300.7" y1="449.2" x2="300.7" y2="451.5" stroke="#1a1a1a" stroke-width="1" />
<line x1="298.4" y1="449.2" x2="303" y2="449.2" stroke="#1a1a1a" stroke-width="1.2" />
<rect x="305.4" y="484.6" width="9.4" height="14.4" fill="#fbba22" />
<line x1="310.1" y1="483.7" x2="310.1" y2="485.1" stroke="#1a1a1a" stroke-width="1" />
<line x1="307.8" y1="483.7" x2="312.4" y2="483.7" stroke="#1a1a1a" stroke-width="1.2" />
<polyline points="232.9,414.6 232.9,410.2 261.7,410.2 261.7,417.9" fill="none" stroke="#1a1a1a" stroke-width="1"/>
<text x="247.3" y="411.7" font-size="10.5" text-anchor="middle" font-weight="bold" fill="#222" >***</text>
<polyline points="242.5,432.3 242.5,427.5 261.7,427.5 261.7,435.2" fill="none" stroke="#1a1a1a" stroke-width="1"/>
<text x="252.1" y="428.6" font-size="10.5" text-anchor="middle" font-weight="bold" fill="#222" >**</text>
<polyline points="251,449.6 251,444.8 261.5,444.8 261.5,455" fill="none" stroke="#1a1a1a" stroke-width="1"/>
<text x="256.5" y="446.3" font-size="10.5" text-anchor="middle" font-weight="bold" fill="#222" >**</text>
<polyline points="280.6,400.6 280.6,395.2 309.4,395.2 309.4,403.5" fill="none" stroke="#1a1a1a" stroke-width="1"/>
<text x="295" y="396.7" font-size="10.5" text-anchor="middle" font-weight="bold" fill="#222" >***</text>
<polyline points="289.8,418.5 289.8,414 309.4,414 309.4,420.8" fill="none" stroke="#1a1a1a" stroke-width="1"/>
<text x="299.8" y="414.6" font-size="10.5" text-anchor="middle" font-weight="bold" fill="#222" >***</text>
<polyline points="298.5,435.2 298.5,430.4 309.4,430.4 309.4,440.6" fill="none" stroke="#1a1a1a" stroke-width="1"/>
<text x="303.8" y="431.5" font-size="10.5" text-anchor="middle" font-weight="bold" fill="#222" >***</text>
<text x="221.5" y="517.8" font-size="10.2" text-anchor="end" font-weight="normal" fill="#222" stroke="#1a1a1a" stroke-width="0.25">IL-6</text>
<text x="248.3" y="517.8" font-size="10" text-anchor="middle" font-weight="normal" fill="#222" >–</text>
<text x="295.6" y="519.5" font-size="12" text-anchor="middle" font-weight="normal" fill="#222" >+</text>
<text transform="translate(189.4,454.8) rotate(-90) scale(0.72,1)" font-size="13" text-anchor="middle" fill="#1a1a1a" stroke="#1a1a1a" stroke-width="0.4">% control</text>
<rect x="340.4" y="422.7" width="10.8" height="8.1" fill="#13538f" />
<text x="355.4" y="430.3" font-size="10.5" text-anchor="start" font-weight="normal" fill="#222" >(-)</text>
<rect x="340.4" y="438.2" width="10.8" height="8" fill="#cc1539" />
<text x="355.4" y="445.8" font-size="10.5" text-anchor="start" font-weight="normal" fill="#222" >MS-275</text>
<rect x="340.4" y="453.8" width="10.8" height="8.1" fill="#3cb14a" />
<text x="355.4" y="461.2" font-size="10.5" text-anchor="start" font-weight="normal" fill="#222" >SMI-16a</text>
<rect x="340.4" y="469.5" width="10.8" height="8.6" fill="#fbba22" />
<text x="355.4" y="476.9" font-size="10.5" text-anchor="start" font-weight="normal" fill="#222" >MS-275 + SMI-16a</text>
<text x="0.2" y="553" font-size="15.8" text-anchor="start" font-weight="bold" fill="#111" >D</text>
<line x1="77.5" y1="554.2" x2="77.5" y2="667" stroke="#1a1a1a" stroke-width="1.2" />
<line x1="73.5" y1="666.4" x2="77.5" y2="666.4" stroke="#1a1a1a" stroke-width="1.1" />
<text x="68.7" y="670" font-size="10.4" text-anchor="end" font-weight="normal" fill="#222" letter-spacing="0.4">0</text>
<line x1="73.5" y1="656.55" x2="77.5" y2="656.55" stroke="#1a1a1a" stroke-width="1.1" />
<text x="68.7" y="660.15" font-size="10.4" text-anchor="end" font-weight="normal" fill="#222" letter-spacing="0.4">200</text>
<line x1="73.5" y1="646.7" x2="77.5" y2="646.7" stroke="#1a1a1a" stroke-width="1.1" />
<text x="68.7" y="650.3" font-size="10.4" text-anchor="end" font-weight="normal" fill="#222" letter-spacing="0.4">400</text>
<line x1="73.5" y1="636.85" x2="77.5" y2="636.85" stroke="#1a1a1a" stroke-width="1.1" />
<text x="68.7" y="640.45" font-size="10.4" text-anchor="end" font-weight="normal" fill="#222" letter-spacing="0.4">600</text>
<line x1="73.5" y1="627" x2="77.5" y2="627" stroke="#1a1a1a" stroke-width="1.1" />
<text x="68.7" y="630.6" font-size="10.4" text-anchor="end" font-weight="normal" fill="#222" letter-spacing="0.4">800</text>
<line x1="73.5" y1="617.15" x2="77.5" y2="617.15" stroke="#1a1a1a" stroke-width="1.1" />
<text x="68.7" y="620.75" font-size="10.4" text-anchor="end" font-weight="normal" fill="#222" letter-spacing="0.4">1000</text>
<line x1="73.5" y1="607.3" x2="77.5" y2="607.3" stroke="#1a1a1a" stroke-width="1.1" />
<text x="68.7" y="610.9" font-size="10.4" text-anchor="end" font-weight="normal" fill="#222" letter-spacing="0.4">1200</text>
<line x1="73.5" y1="597.45" x2="77.5" y2="597.45" stroke="#1a1a1a" stroke-width="1.1" />
<text x="68.7" y="601.05" font-size="10.4" text-anchor="end" font-weight="normal" fill="#222" letter-spacing="0.4">1400</text>
<line x1="73.5" y1="587.6" x2="77.5" y2="587.6" stroke="#1a1a1a" stroke-width="1.1" />
<text x="68.7" y="591.2" font-size="10.4" text-anchor="end" font-weight="normal" fill="#222" letter-spacing="0.4">1600</text>
<line x1="73.5" y1="577.75" x2="77.5" y2="577.75" stroke="#1a1a1a" stroke-width="1.1" />
<text x="68.7" y="581.35" font-size="10.4" text-anchor="end" font-weight="normal" fill="#222" letter-spacing="0.4">1800</text>
<line x1="73.5" y1="567.9" x2="77.5" y2="567.9" stroke="#1a1a1a" stroke-width="1.1" />
<text x="68.7" y="571.5" font-size="10.4" text-anchor="end" font-weight="normal" fill="#222" letter-spacing="0.4">2000</text>
<line x1="73.5" y1="558.05" x2="77.5" y2="558.05" stroke="#1a1a1a" stroke-width="1.1" />
<text x="68.7" y="561.65" font-size="10.4" text-anchor="end" font-weight="normal" fill="#222" letter-spacing="0.4">2200</text>
<line x1="73.5" y1="666.4" x2="245" y2="666.4" stroke="#1a1a1a" stroke-width="1.2" />
<line x1="86.4" y1="666.4" x2="86.4" y2="670.9" stroke="#1a1a1a" stroke-width="1.1" />
<text x="86.4" y="683" font-size="8.6" text-anchor="middle" font-weight="normal" fill="#222" letter-spacing="0.2">1</text>
<line x1="100.18" y1="666.4" x2="100.18" y2="670.9" stroke="#1a1a1a" stroke-width="1.1" />
<text x="100.18" y="683" font-size="8.6" text-anchor="middle" font-weight="normal" fill="#222" letter-spacing="0.2">4</text>
<line x1="113.96" y1="666.4" x2="113.96" y2="670.9" stroke="#1a1a1a" stroke-width="1.1" />
<text x="113.96" y="683" font-size="8.6" text-anchor="middle" font-weight="normal" fill="#222" letter-spacing="0.2">7</text>
<line x1="127.74" y1="666.4" x2="127.74" y2="670.9" stroke="#1a1a1a" stroke-width="1.1" />
<text x="127.74" y="683" font-size="8.6" text-anchor="middle" font-weight="normal" fill="#222" letter-spacing="0.2">10</text>
<line x1="141.52" y1="666.4" x2="141.52" y2="670.9" stroke="#1a1a1a" stroke-width="1.1" />
<text x="141.52" y="683" font-size="8.6" text-anchor="middle" font-weight="normal" fill="#222" letter-spacing="0.2">13</text>
<line x1="155.3" y1="666.4" x2="155.3" y2="670.9" stroke="#1a1a1a" stroke-width="1.1" />
<text x="155.3" y="683" font-size="8.6" text-anchor="middle" font-weight="normal" fill="#222" letter-spacing="0.2">16</text>
<line x1="169.08" y1="666.4" x2="169.08" y2="670.9" stroke="#1a1a1a" stroke-width="1.1" />
<text x="169.08" y="683" font-size="8.6" text-anchor="middle" font-weight="normal" fill="#222" letter-spacing="0.2">19</text>
<line x1="182.86" y1="666.4" x2="182.86" y2="670.9" stroke="#1a1a1a" stroke-width="1.1" />
<text x="182.86" y="683" font-size="8.6" text-anchor="middle" font-weight="normal" fill="#222" letter-spacing="0.2">22</text>
<line x1="196.64" y1="666.4" x2="196.64" y2="670.9" stroke="#1a1a1a" stroke-width="1.1" />
<text x="196.64" y="683" font-size="8.6" text-anchor="middle" font-weight="normal" fill="#222" letter-spacing="0.2">25</text>
<line x1="210.42" y1="666.4" x2="210.42" y2="670.9" stroke="#1a1a1a" stroke-width="1.1" />
<text x="210.42" y="683" font-size="8.6" text-anchor="middle" font-weight="normal" fill="#222" letter-spacing="0.2">28</text>
<line x1="224.2" y1="666.4" x2="224.2" y2="670.9" stroke="#1a1a1a" stroke-width="1.1" />
<text x="224.2" y="683" font-size="8.6" text-anchor="middle" font-weight="normal" fill="#222" letter-spacing="0.2">31</text>
<line x1="237.98" y1="666.4" x2="237.98" y2="670.9" stroke="#1a1a1a" stroke-width="1.1" />
<text x="237.98" y="683" font-size="8.6" text-anchor="middle" font-weight="normal" fill="#222" letter-spacing="0.2">34</text>
<text transform="translate(162.5,700.8) scale(0.72,1)" font-size="12.2" text-anchor="middle" fill="#1a1a1a" stroke="#1a1a1a" stroke-width="0.4">Days</text>
<text transform="translate(35.6,612.3) rotate(-90) scale(0.71,1)" font-size="13.2" text-anchor="middle" fill="#1a1a1a" stroke="#1a1a1a" stroke-width="0.35">Tumor volume (mm<tspan font-size="9" dy="-4.5">3</tspan><tspan dy="4.5">)</tspan></text>
<line x1="127.74" y1="648.9" x2="127.74" y2="651.9" stroke="#13538f" stroke-width="1" />
<line x1="125.34" y1="648.9" x2="130.14" y2="648.9" stroke="#13538f" stroke-width="1" />
<line x1="125.34" y1="651.9" x2="130.14" y2="651.9" stroke="#13538f" stroke-width="1" />
<line x1="141.52" y1="642.5" x2="141.52" y2="648.5" stroke="#13538f" stroke-width="1" />
<line x1="139.12" y1="642.5" x2="143.92" y2="642.5" stroke="#13538f" stroke-width="1" />
<line x1="139.12" y1="648.5" x2="143.92" y2="648.5" stroke="#13538f" stroke-width="1" />
<line x1="155.3" y1="638.3" x2="155.3" y2="642.3" stroke="#13538f" stroke-width="1" />
<line x1="152.9" y1="638.3" x2="157.7" y2="638.3" stroke="#13538f" stroke-width="1" />
<line x1="152.9" y1="642.3" x2="157.7" y2="642.3" stroke="#13538f" stroke-width="1" />
<line x1="169.08" y1="625.3" x2="169.08" y2="629.3" stroke="#13538f" stroke-width="1" />
<line x1="166.68" y1="625.3" x2="171.48" y2="625.3" stroke="#13538f" stroke-width="1" />
<line x1="166.68" y1="629.3" x2="171.48" y2="629.3" stroke="#13538f" stroke-width="1" />
<line x1="182.86" y1="611.5" x2="182.86" y2="623.1" stroke="#13538f" stroke-width="1" />
<line x1="180.46" y1="611.5" x2="185.26" y2="611.5" stroke="#13538f" stroke-width="1" />
<line x1="180.46" y1="623.1" x2="185.26" y2="623.1" stroke="#13538f" stroke-width="1" />
<line x1="196.64" y1="603.1" x2="196.64" y2="622.3" stroke="#13538f" stroke-width="1" />
<line x1="194.24" y1="603.1" x2="199.04" y2="603.1" stroke="#13538f" stroke-width="1" />
<line x1="194.24" y1="622.3" x2="199.04" y2="622.3" stroke="#13538f" stroke-width="1" />
<line x1="210.42" y1="601.7" x2="210.42" y2="615.1" stroke="#13538f" stroke-width="1" />
<line x1="208.02" y1="601.7" x2="212.82" y2="601.7" stroke="#13538f" stroke-width="1" />
<line x1="208.02" y1="615.1" x2="212.82" y2="615.1" stroke="#13538f" stroke-width="1" />
<line x1="224.2" y1="589.6" x2="224.2" y2="605" stroke="#13538f" stroke-width="1" />
<line x1="221.8" y1="589.6" x2="226.6" y2="589.6" stroke="#13538f" stroke-width="1" />
<line x1="221.8" y1="605" x2="226.6" y2="605" stroke="#13538f" stroke-width="1" />
<line x1="237.98" y1="565.2" x2="237.98" y2="586" stroke="#13538f" stroke-width="1" />
<line x1="235.58" y1="565.2" x2="240.38" y2="565.2" stroke="#13538f" stroke-width="1" />
<line x1="235.58" y1="586" x2="240.38" y2="586" stroke="#13538f" stroke-width="1" />
<polyline points="86.4,662 100.18,658 113.96,653.8 127.74,650.4 141.52,645.5 155.3,640.3 169.08,627.3 182.86,617.3 196.64,612.7 210.42,608.4 224.2,597.3 237.98,575.6" fill="none" stroke="#13538f" stroke-width="1.3"/>
<circle cx="86.4" cy="662" r="3.4" fill="#13538f"/>
<circle cx="100.18" cy="658" r="3.4" fill="#13538f"/>
<circle cx="113.96" cy="653.8" r="3.4" fill="#13538f"/>
<circle cx="127.74" cy="650.4" r="3.4" fill="#13538f"/>
<circle cx="141.52" cy="645.5" r="3.4" fill="#13538f"/>
<circle cx="155.3" cy="640.3" r="3.4" fill="#13538f"/>
<circle cx="169.08" cy="627.3" r="3.4" fill="#13538f"/>
<circle cx="182.86" cy="617.3" r="3.4" fill="#13538f"/>
<circle cx="196.64" cy="612.7" r="3.4" fill="#13538f"/>
<circle cx="210.42" cy="608.4" r="3.4" fill="#13538f"/>
<circle cx="224.2" cy="597.3" r="3.4" fill="#13538f"/>
<circle cx="237.98" cy="575.6" r="3.4" fill="#13538f"/>
<line x1="141.52" y1="653.5" x2="141.52" y2="656.5" stroke="#cc1539" stroke-width="1" />
<line x1="139.12" y1="653.5" x2="143.92" y2="653.5" stroke="#cc1539" stroke-width="1" />
<line x1="139.12" y1="656.5" x2="143.92" y2="656.5" stroke="#cc1539" stroke-width="1" />
<line x1="155.3" y1="650.3" x2="155.3" y2="653.3" stroke="#cc1539" stroke-width="1" />
<line x1="152.9" y1="650.3" x2="157.7" y2="650.3" stroke="#cc1539" stroke-width="1" />
<line x1="152.9" y1="653.3" x2="157.7" y2="653.3" stroke="#cc1539" stroke-width="1" />
<line x1="169.08" y1="647.6" x2="169.08" y2="650.6" stroke="#cc1539" stroke-width="1" />
<line x1="166.68" y1="647.6" x2="171.48" y2="647.6" stroke="#cc1539" stroke-width="1" />
<line x1="166.68" y1="650.6" x2="171.48" y2="650.6" stroke="#cc1539" stroke-width="1" />
<line x1="182.86" y1="646.1" x2="182.86" y2="649.1" stroke="#cc1539" stroke-width="1" />
<line x1="180.46" y1="646.1" x2="185.26" y2="646.1" stroke="#cc1539" stroke-width="1" />
<line x1="180.46" y1="649.1" x2="185.26" y2="649.1" stroke="#cc1539" stroke-width="1" />
<line x1="196.64" y1="635.5" x2="196.64" y2="641.5" stroke="#cc1539" stroke-width="1" />
<line x1="194.24" y1="635.5" x2="199.04" y2="635.5" stroke="#cc1539" stroke-width="1" />
<line x1="194.24" y1="641.5" x2="199.04" y2="641.5" stroke="#cc1539" stroke-width="1" />
<line x1="210.42" y1="634" x2="210.42" y2="642" stroke="#cc1539" stroke-width="1" />
<line x1="208.02" y1="634" x2="212.82" y2="634" stroke="#cc1539" stroke-width="1" />
<line x1="208.02" y1="642" x2="212.82" y2="642" stroke="#cc1539" stroke-width="1" />
<line x1="224.2" y1="624.6" x2="224.2" y2="634.6" stroke="#cc1539" stroke-width="1" />
<line x1="221.8" y1="624.6" x2="226.6" y2="624.6" stroke="#cc1539" stroke-width="1" />
<line x1="221.8" y1="634.6" x2="226.6" y2="634.6" stroke="#cc1539" stroke-width="1" />
<line x1="237.98" y1="609.5" x2="237.98" y2="623.5" stroke="#cc1539" stroke-width="1" />
<line x1="235.58" y1="609.5" x2="240.38" y2="609.5" stroke="#cc1539" stroke-width="1" />
<line x1="235.58" y1="623.5" x2="240.38" y2="623.5" stroke="#cc1539" stroke-width="1" />
<polyline points="86.4,663 100.18,661 113.96,658 127.74,656.5 141.52,655 155.3,651.8 169.08,649.1 182.86,647.6 196.64,638.5 210.42,638 224.2,629.6 237.98,616.5" fill="none" stroke="#cc1539" stroke-width="1.3"/>
<rect x="83.4" y="660" width="6" height="6" fill="#cc1539" />
<rect x="97.18" y="658" width="6" height="6" fill="#cc1539" />
<rect x="110.96" y="655" width="6" height="6" fill="#cc1539" />
<rect x="124.74" y="653.5" width="6" height="6" fill="#cc1539" />
<rect x="138.52" y="652" width="6" height="6" fill="#cc1539" />
<rect x="152.3" y="648.8" width="6" height="6" fill="#cc1539" />
<rect x="166.08" y="646.1" width="6" height="6" fill="#cc1539" />
<rect x="179.86" y="644.6" width="6" height="6" fill="#cc1539" />
<rect x="193.64" y="635.5" width="6" height="6" fill="#cc1539" />
<rect x="207.42" y="635" width="6" height="6" fill="#cc1539" />
<rect x="221.2" y="626.6" width="6" height="6" fill="#cc1539" />
<rect x="234.98" y="613.5" width="6" height="6" fill="#cc1539" />
<line x1="141.52" y1="656" x2="141.52" y2="659" stroke="#3cb14a" stroke-width="1" />
<line x1="139.12" y1="656" x2="143.92" y2="656" stroke="#3cb14a" stroke-width="1" />
<line x1="139.12" y1="659" x2="143.92" y2="659" stroke="#3cb14a" stroke-width="1" />
<line x1="155.3" y1="653.9" x2="155.3" y2="656.9" stroke="#3cb14a" stroke-width="1" />
<line x1="152.9" y1="653.9" x2="157.7" y2="653.9" stroke="#3cb14a" stroke-width="1" />
<line x1="152.9" y1="656.9" x2="157.7" y2="656.9" stroke="#3cb14a" stroke-width="1" />
<line x1="169.08" y1="651.4" x2="169.08" y2="654.4" stroke="#3cb14a" stroke-width="1" />
<line x1="166.68" y1="651.4" x2="171.48" y2="651.4" stroke="#3cb14a" stroke-width="1" />
<line x1="166.68" y1="654.4" x2="171.48" y2="654.4" stroke="#3cb14a" stroke-width="1" />
<line x1="182.86" y1="652.5" x2="182.86" y2="655.5" stroke="#3cb14a" stroke-width="1" />
<line x1="180.46" y1="652.5" x2="185.26" y2="652.5" stroke="#3cb14a" stroke-width="1" />
<line x1="180.46" y1="655.5" x2="185.26" y2="655.5" stroke="#3cb14a" stroke-width="1" />
<line x1="196.64" y1="638.3" x2="196.64" y2="646.3" stroke="#3cb14a" stroke-width="1" />
<line x1="194.24" y1="638.3" x2="199.04" y2="638.3" stroke="#3cb14a" stroke-width="1" />
<line x1="194.24" y1="646.3" x2="199.04" y2="646.3" stroke="#3cb14a" stroke-width="1" />
<line x1="210.42" y1="626.3" x2="210.42" y2="641.3" stroke="#3cb14a" stroke-width="1" />
<line x1="208.02" y1="626.3" x2="212.82" y2="626.3" stroke="#3cb14a" stroke-width="1" />
<line x1="208.02" y1="641.3" x2="212.82" y2="641.3" stroke="#3cb14a" stroke-width="1" />
<line x1="224.2" y1="617.9" x2="224.2" y2="637.9" stroke="#3cb14a" stroke-width="1" />
<line x1="221.8" y1="617.9" x2="226.6" y2="617.9" stroke="#3cb14a" stroke-width="1" />
<line x1="221.8" y1="637.9" x2="226.6" y2="637.9" stroke="#3cb14a" stroke-width="1" />
<line x1="237.98" y1="597.6" x2="237.98" y2="623.6" stroke="#3cb14a" stroke-width="1" />
<line x1="235.58" y1="597.6" x2="240.38" y2="597.6" stroke="#3cb14a" stroke-width="1" />
<line x1="235.58" y1="623.6" x2="240.38" y2="623.6" stroke="#3cb14a" stroke-width="1" />
<polyline points="86.4,663 100.18,661.5 113.96,659 127.74,658 141.52,657.5 155.3,655.4 169.08,652.9 182.86,654 196.64,642.3 210.42,633.8 224.2,627.9 237.98,610.6" fill="none" stroke="#3cb14a" stroke-width="1.3"/>
<polygon points="86.4,659.6 89.8,663 86.4,666.4 83,663" fill="#3cb14a"/>
<polygon points="100.18,658.1 103.58,661.5 100.18,664.9 96.78,661.5" fill="#3cb14a"/>
<polygon points="113.96,655.6 117.36,659 113.96,662.4 110.56,659" fill="#3cb14a"/>
<polygon points="127.74,654.6 131.14,658 127.74,661.4 124.34,658" fill="#3cb14a"/>
<polygon points="141.52,654.1 144.92,657.5 141.52,660.9 138.12,657.5" fill="#3cb14a"/>
<polygon points="155.3,652 158.7,655.4 155.3,658.8 151.9,655.4" fill="#3cb14a"/>
<polygon points="169.08,649.5 172.48,652.9 169.08,656.3 165.68,652.9" fill="#3cb14a"/>
<polygon points="182.86,650.6 186.26,654 182.86,657.4 179.46,654" fill="#3cb14a"/>
<polygon points="196.64,638.9 200.04,642.3 196.64,645.7 193.24,642.3" fill="#3cb14a"/>
<polygon points="210.42,630.4 213.82,633.8 210.42,637.2 207.02,633.8" fill="#3cb14a"/>
<polygon points="224.2,624.5 227.6,627.9 224.2,631.3 220.8,627.9" fill="#3cb14a"/>
<polygon points="237.98,607.2 241.38,610.6 237.98,614 234.58,610.6" fill="#3cb14a"/>
<line x1="113.96" y1="660" x2="113.96" y2="662" stroke="#fbba22" stroke-width="1" />
<line x1="111.56" y1="660" x2="116.36" y2="660" stroke="#fbba22" stroke-width="1" />
<line x1="111.56" y1="662" x2="116.36" y2="662" stroke="#fbba22" stroke-width="1" />
<line x1="127.74" y1="659" x2="127.74" y2="661" stroke="#fbba22" stroke-width="1" />
<line x1="125.34" y1="659" x2="130.14" y2="659" stroke="#fbba22" stroke-width="1" />
<line x1="125.34" y1="661" x2="130.14" y2="661" stroke="#fbba22" stroke-width="1" />
<line x1="141.52" y1="657.7" x2="141.52" y2="660.7" stroke="#fbba22" stroke-width="1" />
<line x1="139.12" y1="657.7" x2="143.92" y2="657.7" stroke="#fbba22" stroke-width="1" />
<line x1="139.12" y1="660.7" x2="143.92" y2="660.7" stroke="#fbba22" stroke-width="1" />
<line x1="155.3" y1="653.7" x2="155.3" y2="659.7" stroke="#fbba22" stroke-width="1" />
<line x1="152.9" y1="653.7" x2="157.7" y2="653.7" stroke="#fbba22" stroke-width="1" />
<line x1="152.9" y1="659.7" x2="157.7" y2="659.7" stroke="#fbba22" stroke-width="1" />
<line x1="169.08" y1="651" x2="169.08" y2="657" stroke="#fbba22" stroke-width="1" />
<line x1="166.68" y1="651" x2="171.48" y2="651" stroke="#fbba22" stroke-width="1" />
<line x1="166.68" y1="657" x2="171.48" y2="657" stroke="#fbba22" stroke-width="1" />
<line x1="182.86" y1="651" x2="182.86" y2="657" stroke="#fbba22" stroke-width="1" />
<line x1="180.46" y1="651" x2="185.26" y2="651" stroke="#fbba22" stroke-width="1" />
<line x1="180.46" y1="657" x2="185.26" y2="657" stroke="#fbba22" stroke-width="1" />
<line x1="196.64" y1="647.8" x2="196.64" y2="655.8" stroke="#fbba22" stroke-width="1" />
<line x1="194.24" y1="647.8" x2="199.04" y2="647.8" stroke="#fbba22" stroke-width="1" />
<line x1="194.24" y1="655.8" x2="199.04" y2="655.8" stroke="#fbba22" stroke-width="1" />
<line x1="210.42" y1="638.7" x2="210.42" y2="652.3" stroke="#fbba22" stroke-width="1" />
<line x1="208.02" y1="638.7" x2="212.82" y2="638.7" stroke="#fbba22" stroke-width="1" />
<line x1="208.02" y1="652.3" x2="212.82" y2="652.3" stroke="#fbba22" stroke-width="1" />
<line x1="224.2" y1="635.1" x2="224.2" y2="651.7" stroke="#fbba22" stroke-width="1" />
<line x1="221.8" y1="635.1" x2="226.6" y2="635.1" stroke="#fbba22" stroke-width="1" />
<line x1="221.8" y1="651.7" x2="226.6" y2="651.7" stroke="#fbba22" stroke-width="1" />
<line x1="237.98" y1="634.8" x2="237.98" y2="649.8" stroke="#fbba22" stroke-width="1" />
<line x1="235.58" y1="634.8" x2="240.38" y2="634.8" stroke="#fbba22" stroke-width="1" />
<line x1="235.58" y1="649.8" x2="240.38" y2="649.8" stroke="#fbba22" stroke-width="1" />
<polyline points="86.4,663 100.18,662.5 113.96,661 127.74,660 141.52,659.2 155.3,656.7 169.08,654 182.86,654 196.64,651.8 210.42,645.5 224.2,643.4 237.98,642.3" fill="none" stroke="#fbba22" stroke-width="1.3"/>
<circle cx="86.4" cy="663" r="3.4" fill="#fbba22"/>
<circle cx="100.18" cy="662.5" r="3.4" fill="#fbba22"/>
<circle cx="113.96" cy="661" r="3.4" fill="#fbba22"/>
<circle cx="127.74" cy="660" r="3.4" fill="#fbba22"/>
<circle cx="141.52" cy="659.2" r="3.4" fill="#fbba22"/>
<circle cx="155.3" cy="656.7" r="3.4" fill="#fbba22"/>
<circle cx="169.08" cy="654" r="3.4" fill="#fbba22"/>
<circle cx="182.86" cy="654" r="3.4" fill="#fbba22"/>
<circle cx="196.64" cy="651.8" r="3.4" fill="#fbba22"/>
<circle cx="210.42" cy="645.5" r="3.4" fill="#fbba22"/>
<circle cx="224.2" cy="643.4" r="3.4" fill="#fbba22"/>
<circle cx="237.98" cy="642.3" r="3.4" fill="#fbba22"/>
<polyline points="248.7,573.8 253.5,573.8 253.5,605.8 248.7,605.8" fill="none" stroke="#1a1a1a" stroke-width="1.1"/>
<text x="257.2" y="596.1" font-size="10.5" text-anchor="middle" font-weight="normal" fill="#222" >*</text>
<polyline points="249.2,609.6 254,609.6 254,640.8 249.2,640.8" fill="none" stroke="#1a1a1a" stroke-width="1.1"/>
<text x="257.8" y="631.7" font-size="10.5" text-anchor="middle" font-weight="normal" fill="#222" >*</text>
<polyline points="264,573.8 269.8,573.8 269.8,640.8 264,640.8" fill="none" stroke="#1a1a1a" stroke-width="1.1"/>
<text transform="translate(268.3,608.5) rotate(90)" font-size="10.5" text-anchor="middle" fill="#1a1a1a">**</text>
<line x1="297.5" y1="587" x2="313" y2="587" stroke="#13538f" stroke-width="1.3" />
<circle cx="305.3" cy="587" r="3.1" fill="#13538f"/>
<text x="317.5" y="590.6" font-size="10.5" text-anchor="start" font-weight="normal" fill="#222" >Vehicle</text>
<line x1="297.5" y1="602" x2="313" y2="602" stroke="#cc1539" stroke-width="1.3" />
<rect x="302.3" y="599" width="6" height="6" fill="#cc1539" />
<text x="317.5" y="605.6" font-size="10.5" text-anchor="start" font-weight="normal" fill="#222" >MS-275</text>
<line x1="297.5" y1="617.5" x2="313" y2="617.5" stroke="#3cb14a" stroke-width="1.3" />
<polygon points="305.3,614.1 308.7,617.5 305.3,620.9 301.9,617.5" fill="#3cb14a"/>
<text x="317.5" y="621" font-size="10.5" text-anchor="start" font-weight="normal" fill="#222" >SMI-16a</text>
<line x1="297.5" y1="633" x2="313" y2="633" stroke="#fbba22" stroke-width="1.3" />
<circle cx="305.3" cy="633" r="3.1" fill="#fbba22"/>
<text x="317.5" y="636.6" font-size="10.5" text-anchor="start" font-weight="normal" fill="#222" >MS-275 + SMI-16a</text>
<text x="1" y="736.1" font-size="15.8" text-anchor="start" font-weight="bold" fill="#111" >E</text>
<text x="108.3" y="737" font-size="11.1" text-anchor="middle" font-weight="normal" fill="#222" >No treatment</text>
<text x="219.8" y="737" font-size="11.1" text-anchor="middle" font-weight="normal" fill="#222" >MS-275</text>
<text x="332.5" y="737" font-size="11.1" text-anchor="middle" font-weight="normal" fill="#222" >SMI-16a</text>
<text x="448" y="737" font-size="11.1" text-anchor="middle" font-weight="normal" fill="#222" >MS-275 + SMI-16a</text>
<text x="52.5" y="793.8" font-size="10.6" text-anchor="end" font-weight="normal" fill="#222" >Day 1</text>
<text x="53.3" y="894.1" font-size="10.6" text-anchor="end" font-weight="normal" fill="#222" >Day 28</text>
<defs><linearGradient id="mg" x1="0" y1="0" x2="1" y2="0"><stop offset="0" stop-color="#8a8a8a"/><stop offset="0.18" stop-color="#cfcfcf"/><stop offset="0.5" stop-color="#f0f0f0"/><stop offset="0.82" stop-color="#cdcdcd"/><stop offset="1" stop-color="#8a8a8a"/></linearGradient><linearGradient id="mv" x1="0" y1="0" x2="0" y2="1"><stop offset="0" stop-color="#000" stop-opacity="0.28"/><stop offset="0.15" stop-color="#000" stop-opacity="0.14"/><stop offset="0.3" stop-color="#000" stop-opacity="0"/><stop offset="0.88" stop-color="#000" stop-opacity="0"/><stop offset="1" stop-color="#000" stop-opacity="0.2"/></linearGradient><filter id="sb" x="-50%" y="-50%" width="200%" height="200%"><feGaussianBlur stdDeviation="0.55"/></filter><filter id="mb" x="-10%" y="-10%" width="120%" height="120%"><feTurbulence type="fractalNoise" baseFrequency="0.28" numOctaves="2" seed="7" result="n"/><feColorMatrix in="n" type="matrix" values="0 0 0 0 0.3  0 0 0 0 0.3  0 0 0 0 0.3  0 0 0 0.9 -0.3" result="na"/><feComposite in="na" in2="SourceGraphic" operator="in" result="nm"/><feMerge result="mm"><feMergeNode in="SourceGraphic"/><feMergeNode in="nm"/></feMerge><feGaussianBlur in="mm" stdDeviation="0.55"/></filter><path id="m1" d="M0,0 C0.5,0 1.04,0.61 1.51,1.19 C1.99,1.76 2.47,2.5 2.83,3.46 C3.18,4.41 3.38,5.84 3.64,6.91 C3.89,7.98 4.01,9.12 4.34,9.88 C4.68,10.63 5.34,10.86 5.66,11.46 C5.98,12.05 6.18,12.77 6.26,13.43 C6.35,14.09 5.92,14.75 6.16,15.41 C6.4,16.06 7.02,16.66 7.68,17.38 C8.33,18.1 9.29,18.99 10.1,19.75 C10.91,20.51 11.72,21.4 12.52,21.92 C13.33,22.45 14.41,22.35 14.95,22.91 C15.49,23.47 15.79,24.56 15.75,25.28 C15.72,26 14.88,26.2 14.75,27.26 C14.61,28.31 14.88,29.56 14.95,31.6 C15.01,33.64 15.06,36.54 15.15,39.5 C15.23,42.46 15.44,46.08 15.45,49.38 C15.47,52.67 15.4,56.45 15.25,59.25 C15.1,62.05 14.96,64.11 14.54,66.16 C14.12,68.22 13.55,70.03 12.73,71.59 C11.9,73.16 10.87,74.47 9.59,75.54 C8.32,76.61 6.35,77.44 5.05,78.01 C3.75,78.59 2.96,78.84 1.82,79 C0.67,79.16 -0.67,79.16 -1.82,79 C-2.96,78.84 -3.75,78.59 -5.05,78.01 C-6.35,77.44 -8.32,76.61 -9.59,75.54 C-10.87,74.47 -11.9,73.16 -12.73,71.59 C-13.55,70.03 -14.12,68.22 -14.54,66.16 C-14.96,64.11 -15.1,62.05 -15.25,59.25 C-15.4,56.45 -15.47,52.67 -15.45,49.38 C-15.44,46.08 -15.25,42.46 -15.15,39.5 C-15.05,36.54 -15.01,33.71 -14.85,31.6 C-14.68,29.49 -14.49,28.24 -14.14,26.86 C-13.79,25.48 -13.33,24.36 -12.73,23.31 C-12.12,22.25 -11.31,21.46 -10.5,20.54 C-9.7,19.62 -8.6,18.63 -7.88,17.78 C-7.15,16.92 -6.43,16.13 -6.16,15.41 C-5.89,14.68 -6.35,14.09 -6.26,13.43 C-6.18,12.77 -5.98,12.05 -5.66,11.46 C-5.34,10.86 -4.68,10.63 -4.34,9.88 C-4.01,9.12 -3.89,7.98 -3.64,6.91 C-3.38,5.84 -3.18,4.41 -2.83,3.46 C-2.47,2.5 -1.99,1.76 -1.51,1.19 C-1.04,0.61 -0.5,0 0,0Z"/><path id="m2" d="M0,0 C0.55,0 1.13,0.62 1.64,1.2 C2.15,1.78 2.68,2.53 3.06,3.5 C3.44,4.47 3.66,5.92 3.93,7 C4.21,8.08 4.33,9.23 4.7,10 C5.06,10.77 5.77,11 6.12,11.6 C6.47,12.2 6.68,12.93 6.77,13.6 C6.87,14.27 6.41,14.93 6.67,15.6 C6.92,16.27 7.59,16.87 8.3,17.6 C9.01,18.33 10.05,19.23 10.93,20 C11.8,20.77 12.68,21.67 13.55,22.2 C14.42,22.73 15.59,22.63 16.17,23.2 C16.75,23.77 17.08,24.87 17.05,25.6 C17.01,26.33 16.1,26.53 15.95,27.6 C15.81,28.67 16.1,29.93 16.17,32 C16.25,34.07 16.3,37 16.39,40 C16.48,43 16.7,46.67 16.72,50 C16.74,53.33 16.66,57.17 16.5,60 C16.34,62.83 16.19,64.92 15.74,67 C15.28,69.08 14.66,70.92 13.77,72.5 C12.88,74.08 11.76,75.42 10.38,76.5 C9,77.58 6.87,78.42 5.46,79 C4.06,79.58 3.21,79.83 1.97,80 C0.73,80.17 -0.73,80.17 -1.97,80 C-3.21,79.83 -4.06,79.58 -5.46,79 C-6.87,78.42 -9,77.58 -10.38,76.5 C-11.76,75.42 -12.88,74.08 -13.77,72.5 C-14.66,70.92 -15.28,69.08 -15.74,67 C-16.19,64.92 -16.34,62.83 -16.5,60 C-16.66,57.17 -16.74,53.33 -16.72,50 C-16.7,46.67 -16.5,43 -16.39,40 C-16.28,37 -16.25,34.13 -16.06,32 C-15.88,29.87 -15.68,28.6 -15.3,27.2 C-14.92,25.8 -14.42,24.67 -13.77,23.6 C-13.11,22.53 -12.24,21.73 -11.36,20.8 C-10.49,19.87 -9.31,18.87 -8.52,18 C-7.74,17.13 -6.96,16.33 -6.67,15.6 C-6.37,14.87 -6.87,14.27 -6.77,13.6 C-6.68,12.93 -6.47,12.2 -6.12,11.6 C-5.77,11 -5.06,10.77 -4.7,10 C-4.33,9.23 -4.21,8.08 -3.93,7 C-3.66,5.92 -3.44,4.47 -3.06,3.5 C-2.68,2.53 -2.15,1.78 -1.64,1.2 C-1.13,0.62 -0.55,0 0,0Z"/></defs>
<svg x="58.3" y="743.8" width="101.1" height="92" viewBox="58.3 743.8 101.1 92" overflow="hidden">
<rect x="58.3" y="743.8" width="101.1" height="92" fill="#303235" />
<rect x="74.2" y="819.3" width="2.6" height="18.5" fill="#b4b4b4" />
<polyline points="84.5,813.3 90,823.3 91.5,828.3 89,831.3" fill="none" stroke="#9a9a9a" stroke-width="2.2" stroke-linecap="round" stroke-linejoin="round" filter="url(#sb)"/>
<polyline points="66.5,813.3 61,823.3 59.5,828.3 62,831.3" fill="none" stroke="#9a9a9a" stroke-width="2.2" stroke-linecap="round" stroke-linejoin="round" filter="url(#sb)"/>
<g transform="translate(75.5,745.3)" filter="url(#mb)"><use href="#m1" fill="url(#mg)"/><use href="#m1" fill="url(#mv)"/></g>
<ellipse cx="75.5" cy="749.3" rx="2" ry="3" fill="#ececec" filter="url(#sb)"/>
<rect x="108.2" y="819.3" width="2.6" height="18.5" fill="#b4b4b4" />
<polyline points="118.5,813.3 124,823.3 125.5,828.3 123,831.3" fill="none" stroke="#9a9a9a" stroke-width="2.2" stroke-linecap="round" stroke-linejoin="round" filter="url(#sb)"/>
<polyline points="100.5,813.3 95,823.3 93.5,828.3 96,831.3" fill="none" stroke="#9a9a9a" stroke-width="2.2" stroke-linecap="round" stroke-linejoin="round" filter="url(#sb)"/>
<g transform="translate(109.5,745.3)" filter="url(#mb)"><use href="#m1" fill="url(#mg)"/><use href="#m1" fill="url(#mv)"/></g>
<ellipse cx="109.5" cy="749.3" rx="2" ry="3" fill="#ececec" filter="url(#sb)"/>
<rect x="141.6" y="819.3" width="2.6" height="18.5" fill="#b4b4b4" />
<polyline points="151.9,813.3 157.4,823.3 158.9,828.3 156.4,831.3" fill="none" stroke="#9a9a9a" stroke-width="2.2" stroke-linecap="round" stroke-linejoin="round" filter="url(#sb)"/>
<polyline points="133.9,813.3 128.4,823.3 126.9,828.3 129.4,831.3" fill="none" stroke="#9a9a9a" stroke-width="2.2" stroke-linecap="round" stroke-linejoin="round" filter="url(#sb)"/>
<g transform="translate(142.9,745.3)" filter="url(#mb)"><use href="#m1" fill="url(#mg)"/><use href="#m1" fill="url(#mv)"/></g>
<ellipse cx="142.9" cy="749.3" rx="2" ry="3" fill="#ececec" filter="url(#sb)"/>
<g filter="url(#sb)">
<ellipse cx="84.1" cy="803.3" rx="4.1" ry="4.5" fill="#241c98"/>
<ellipse cx="84.1" cy="803.3" rx="3.53" ry="3.87" fill="#1e3cf0"/>
<ellipse cx="84.1" cy="803.3" rx="2.95" ry="3.24" fill="#22c4e6"/>
</g>
<g filter="url(#sb)">
<ellipse cx="119.6" cy="799.8" rx="4.2" ry="4.8" fill="#241c98"/>
<ellipse cx="119.6" cy="799.8" rx="3.61" ry="4.13" fill="#1e3cf0"/>
<ellipse cx="119.6" cy="799.8" rx="3.02" ry="3.46" fill="#22c4e6"/>
<ellipse cx="119.6" cy="799.8" rx="2.44" ry="2.78" fill="#40d44c"/>
<ellipse cx="119.6" cy="799.8" rx="1.89" ry="2.16" fill="#f2e22c"/>
</g>
<g filter="url(#sb)">
<ellipse cx="153.4" cy="802.4" rx="4.2" ry="6.4" fill="#241c98"/>
<ellipse cx="153.4" cy="802.4" rx="3.61" ry="5.5" fill="#1e3cf0"/>
<ellipse cx="153.4" cy="802.4" rx="3.02" ry="4.61" fill="#22c4e6"/>
<ellipse cx="153.4" cy="802.4" rx="2.44" ry="3.71" fill="#40d44c"/>
<ellipse cx="153.4" cy="802.4" rx="1.89" ry="2.88" fill="#f2e22c"/>
<ellipse cx="153.4" cy="802.4" rx="1.34" ry="2.05" fill="#ee2a1e"/>
</g>
</svg>
<svg x="171.5" y="743.8" width="96" height="92" viewBox="171.5 743.8 96 92" overflow="hidden">
<rect x="171.5" y="743.8" width="96" height="92" fill="#303235" />
<rect x="185.9" y="819.3" width="2.6" height="18.5" fill="#b4b4b4" />
<polyline points="196.2,813.3 201.7,823.3 203.2,828.3 200.7,831.3" fill="none" stroke="#9a9a9a" stroke-width="2.2" stroke-linecap="round" stroke-linejoin="round" filter="url(#sb)"/>
<polyline points="178.2,813.3 172.7,823.3 171.2,828.3 173.7,831.3" fill="none" stroke="#9a9a9a" stroke-width="2.2" stroke-linecap="round" stroke-linejoin="round" filter="url(#sb)"/>
<g transform="translate(187.2,745.3)" filter="url(#mb)"><use href="#m1" fill="url(#mg)"/><use href="#m1" fill="url(#mv)"/></g>
<ellipse cx="187.2" cy="749.3" rx="2" ry="3" fill="#ececec" filter="url(#sb)"/>
<rect x="218.7" y="819.3" width="2.6" height="18.5" fill="#b4b4b4" />
<polyline points="229,813.3 234.5,823.3 236,828.3 233.5,831.3" fill="none" stroke="#9a9a9a" stroke-width="2.2" stroke-linecap="round" stroke-linejoin="round" filter="url(#sb)"/>
<polyline points="211,813.3 205.5,823.3 204,828.3 206.5,831.3" fill="none" stroke="#9a9a9a" stroke-width="2.2" stroke-linecap="round" stroke-linejoin="round" filter="url(#sb)"/>
<g transform="translate(220,745.3)" filter="url(#mb)"><use href="#m1" fill="url(#mg)"/><use href="#m1" fill="url(#mv)"/></g>
<ellipse cx="220" cy="749.3" rx="2" ry="3" fill="#ececec" filter="url(#sb)"/>
<rect x="250.4" y="819.3" width="2.6" height="18.5" fill="#b4b4b4" />
<polyline points="260.7,813.3 266.2,823.3 267.7,828.3 265.2,831.3" fill="none" stroke="#9a9a9a" stroke-width="2.2" stroke-linecap="round" stroke-linejoin="round" filter="url(#sb)"/>
<polyline points="242.7,813.3 237.2,823.3 235.7,828.3 238.2,831.3" fill="none" stroke="#9a9a9a" stroke-width="2.2" stroke-linecap="round" stroke-linejoin="round" filter="url(#sb)"/>
<g transform="translate(251.7,745.3)" filter="url(#mb)"><use href="#m1" fill="url(#mg)"/><use href="#m1" fill="url(#mv)"/></g>
<ellipse cx="251.7" cy="749.3" rx="2" ry="3" fill="#ececec" filter="url(#sb)"/>
<g filter="url(#sb)">
<ellipse cx="192.2" cy="802.2" rx="4.5" ry="7.6" fill="#241c98"/>
<ellipse cx="192.2" cy="802.2" rx="3.87" ry="6.54" fill="#1e3cf0"/>
<ellipse cx="192.2" cy="802.2" rx="3.24" ry="5.47" fill="#22c4e6"/>
<ellipse cx="192.2" cy="802.2" rx="2.61" ry="4.41" fill="#40d44c"/>
<ellipse cx="192.2" cy="802.2" rx="2.02" ry="3.42" fill="#f2e22c"/>
<ellipse cx="192.2" cy="802.2" rx="1.44" ry="2.43" fill="#ee2a1e"/>
</g>
<g filter="url(#sb)">
<ellipse cx="228.4" cy="801.4" rx="4.2" ry="8.5" fill="#241c98"/>
<ellipse cx="228.4" cy="801.4" rx="3.61" ry="7.31" fill="#1e3cf0"/>
<ellipse cx="228.4" cy="801.4" rx="3.02" ry="6.12" fill="#22c4e6"/>
<ellipse cx="228.4" cy="801.4" rx="2.44" ry="4.93" fill="#40d44c"/>
<ellipse cx="228.4" cy="801.4" rx="1.89" ry="3.83" fill="#f2e22c"/>
</g>
<g filter="url(#sb)">
<ellipse cx="262.3" cy="803.3" rx="3.2" ry="6.6" fill="#241c98"/>
<ellipse cx="262.3" cy="803.3" rx="2.75" ry="5.68" fill="#1e3cf0"/>
<ellipse cx="262.3" cy="803.3" rx="2.3" ry="4.75" fill="#22c4e6"/>
<ellipse cx="262.3" cy="803.3" rx="1.86" ry="3.83" fill="#40d44c"/>
</g>
</svg>
<svg x="282.3" y="743.8" width="100.4" height="92" viewBox="282.3 743.8 100.4 92" overflow="hidden">
<rect x="282.3" y="743.8" width="100.4" height="92" fill="#303235" />
<rect x="296.7" y="819.3" width="2.6" height="18.5" fill="#b4b4b4" />
<polyline points="307,813.3 312.5,823.3 314,828.3 311.5,831.3" fill="none" stroke="#9a9a9a" stroke-width="2.2" stroke-linecap="round" stroke-linejoin="round" filter="url(#sb)"/>
<polyline points="289,813.3 283.5,823.3 282,828.3 284.5,831.3" fill="none" stroke="#9a9a9a" stroke-width="2.2" stroke-linecap="round" stroke-linejoin="round" filter="url(#sb)"/>
<g transform="translate(298,745.3)" filter="url(#mb)"><use href="#m1" fill="url(#mg)"/><use href="#m1" fill="url(#mv)"/></g>
<ellipse cx="298" cy="749.3" rx="2" ry="3" fill="#ececec" filter="url(#sb)"/>
<rect x="331.7" y="819.3" width="2.6" height="18.5" fill="#b4b4b4" />
<polyline points="342,813.3 347.5,823.3 349,828.3 346.5,831.3" fill="none" stroke="#9a9a9a" stroke-width="2.2" stroke-linecap="round" stroke-linejoin="round" filter="url(#sb)"/>
<polyline points="324,813.3 318.5,823.3 317,828.3 319.5,831.3" fill="none" stroke="#9a9a9a" stroke-width="2.2" stroke-linecap="round" stroke-linejoin="round" filter="url(#sb)"/>
<g transform="translate(333,745.3)" filter="url(#mb)"><use href="#m1" fill="url(#mg)"/><use href="#m1" fill="url(#mv)"/></g>
<ellipse cx="333" cy="749.3" rx="2" ry="3" fill="#ececec" filter="url(#sb)"/>
<rect x="364.5" y="819.3" width="2.6" height="18.5" fill="#b4b4b4" />
<polyline points="374.8,813.3 380.3,823.3 381.8,828.3 379.3,831.3" fill="none" stroke="#9a9a9a" stroke-width="2.2" stroke-linecap="round" stroke-linejoin="round" filter="url(#sb)"/>
<polyline points="356.8,813.3 351.3,823.3 349.8,828.3 352.3,831.3" fill="none" stroke="#9a9a9a" stroke-width="2.2" stroke-linecap="round" stroke-linejoin="round" filter="url(#sb)"/>
<g transform="translate(365.8,745.3)" filter="url(#mb)"><use href="#m1" fill="url(#mg)"/><use href="#m1" fill="url(#mv)"/></g>
<ellipse cx="365.8" cy="749.3" rx="2" ry="3" fill="#ececec" filter="url(#sb)"/>
<ellipse cx="308.7" cy="800" rx="2.1" ry="2.4" fill="#4a2cc0" fill-opacity="0.9" filter="url(#sb)"/>
<g filter="url(#sb)">
<ellipse cx="344.6" cy="800" rx="4.2" ry="4.6" fill="#241c98"/>
<ellipse cx="344.6" cy="800" rx="3.61" ry="3.96" fill="#1e3cf0"/>
<ellipse cx="344.6" cy="800" rx="3.02" ry="3.31" fill="#22c4e6"/>
<ellipse cx="344.6" cy="800" rx="2.44" ry="2.67" fill="#40d44c"/>
<ellipse cx="344.6" cy="800" rx="1.89" ry="2.07" fill="#f2e22c"/>
</g>
<ellipse cx="377.7" cy="795" rx="2.9" ry="4.2" fill="#2a36d0" filter="url(#sb)"/>
<ellipse cx="377.7" cy="795" rx="1.59" ry="2.31" fill="#3c8cff" filter="url(#sb)"/>
</svg>
<svg x="397.7" y="743.8" width="100.2" height="92" viewBox="397.7 743.8 100.2 92" overflow="hidden">
<rect x="397.7" y="743.8" width="100.2" height="92" fill="#303235" />
<rect x="411.7" y="819.3" width="2.6" height="18.5" fill="#b4b4b4" />
<polyline points="422,813.3 427.5,823.3 429,828.3 426.5,831.3" fill="none" stroke="#9a9a9a" stroke-width="2.2" stroke-linecap="round" stroke-linejoin="round" filter="url(#sb)"/>
<polyline points="404,813.3 398.5,823.3 397,828.3 399.5,831.3" fill="none" stroke="#9a9a9a" stroke-width="2.2" stroke-linecap="round" stroke-linejoin="round" filter="url(#sb)"/>
<g transform="translate(413,745.3)" filter="url(#mb)"><use href="#m1" fill="url(#mg)"/><use href="#m1" fill="url(#mv)"/></g>
<ellipse cx="413" cy="749.3" rx="2" ry="3" fill="#ececec" filter="url(#sb)"/>
<rect x="447.7" y="819.3" width="2.6" height="18.5" fill="#b4b4b4" />
<polyline points="458,813.3 463.5,823.3 465,828.3 462.5,831.3" fill="none" stroke="#9a9a9a" stroke-width="2.2" stroke-linecap="round" stroke-linejoin="round" filter="url(#sb)"/>
<polyline points="440,813.3 434.5,823.3 433,828.3 435.5,831.3" fill="none" stroke="#9a9a9a" stroke-width="2.2" stroke-linecap="round" stroke-linejoin="round" filter="url(#sb)"/>
<g transform="translate(449,745.3)" filter="url(#mb)"><use href="#m1" fill="url(#mg)"/><use href="#m1" fill="url(#mv)"/></g>
<ellipse cx="449" cy="749.3" rx="2" ry="3" fill="#ececec" filter="url(#sb)"/>
<rect x="480.5" y="819.3" width="2.6" height="18.5" fill="#b4b4b4" />
<polyline points="490.8,813.3 496.3,823.3 497.8,828.3 495.3,831.3" fill="none" stroke="#9a9a9a" stroke-width="2.2" stroke-linecap="round" stroke-linejoin="round" filter="url(#sb)"/>
<polyline points="472.8,813.3 467.3,823.3 465.8,828.3 468.3,831.3" fill="none" stroke="#9a9a9a" stroke-width="2.2" stroke-linecap="round" stroke-linejoin="round" filter="url(#sb)"/>
<g transform="translate(481.8,745.3)" filter="url(#mb)"><use href="#m1" fill="url(#mg)"/><use href="#m1" fill="url(#mv)"/></g>
<ellipse cx="481.8" cy="749.3" rx="2" ry="3" fill="#ececec" filter="url(#sb)"/>
<g filter="url(#sb)">
<ellipse cx="419.5" cy="801.7" rx="3.2" ry="2.9" fill="#241c98"/>
<ellipse cx="419.5" cy="801.7" rx="2.75" ry="2.49" fill="#1e3cf0"/>
<ellipse cx="419.5" cy="801.7" rx="2.3" ry="2.09" fill="#22c4e6"/>
</g>
<g filter="url(#sb)">
<ellipse cx="452.6" cy="800.3" rx="5" ry="7" fill="#241c98"/>
<ellipse cx="452.6" cy="800.3" rx="4.3" ry="6.02" fill="#1e3cf0"/>
<ellipse cx="452.6" cy="800.3" rx="3.6" ry="5.04" fill="#22c4e6"/>
<ellipse cx="452.6" cy="800.3" rx="2.9" ry="4.06" fill="#40d44c"/>
<ellipse cx="452.6" cy="800.3" rx="2.25" ry="3.15" fill="#f2e22c"/>
<ellipse cx="452.6" cy="800.3" rx="1.6" ry="2.24" fill="#ee2a1e"/>
</g>
<g filter="url(#sb)">
<ellipse cx="492.1" cy="799.2" rx="3.5" ry="6.3" fill="#241c98"/>
<ellipse cx="492.1" cy="799.2" rx="3.01" ry="5.42" fill="#1e3cf0"/>
<ellipse cx="492.1" cy="799.2" rx="2.52" ry="4.54" fill="#22c4e6"/>
<ellipse cx="492.1" cy="799.2" rx="2.03" ry="3.65" fill="#40d44c"/>
<ellipse cx="492.1" cy="799.2" rx="1.57" ry="2.83" fill="#f2e22c"/>
</g>
</svg>
<svg x="58.7" y="844.4" width="101.4" height="92.6" viewBox="58.7 844.4 101.4 92.6" overflow="hidden">
<rect x="58.7" y="844.4" width="101.4" height="92.6" fill="#303235" />
<rect x="75.9" y="919" width="2.6" height="20" fill="#b4b4b4" />
<polyline points="86.65,913 92.43,923 94,928 91.38,931" fill="none" stroke="#9a9a9a" stroke-width="2.2" stroke-linecap="round" stroke-linejoin="round" filter="url(#sb)"/>
<polyline points="67.75,913 61.98,923 60.4,928 63.03,931" fill="none" stroke="#9a9a9a" stroke-width="2.2" stroke-linecap="round" stroke-linejoin="round" filter="url(#sb)"/>
<g transform="translate(77.2,845)" filter="url(#mb)"><use href="#m2" fill="url(#mg)"/><use href="#m2" fill="url(#mv)"/></g>
<ellipse cx="77.2" cy="849" rx="2" ry="3" fill="#ececec" filter="url(#sb)"/>
<rect x="108.7" y="919" width="2.6" height="20" fill="#b4b4b4" />
<polyline points="119.45,913 125.22,923 126.8,928 124.17,931" fill="none" stroke="#9a9a9a" stroke-width="2.2" stroke-linecap="round" stroke-linejoin="round" filter="url(#sb)"/>
<polyline points="100.55,913 94.78,923 93.2,928 95.83,931" fill="none" stroke="#9a9a9a" stroke-width="2.2" stroke-linecap="round" stroke-linejoin="round" filter="url(#sb)"/>
<g transform="translate(110,845)" filter="url(#mb)"><use href="#m2" fill="url(#mg)"/><use href="#m2" fill="url(#mv)"/></g>
<ellipse cx="110" cy="849" rx="2" ry="3" fill="#ececec" filter="url(#sb)"/>
<rect x="142.5" y="919" width="2.6" height="20" fill="#b4b4b4" />
<polyline points="153.25,913 159.03,923 160.6,928 157.98,931" fill="none" stroke="#9a9a9a" stroke-width="2.2" stroke-linecap="round" stroke-linejoin="round" filter="url(#sb)"/>
<polyline points="134.35,913 128.58,923 127,928 129.62,931" fill="none" stroke="#9a9a9a" stroke-width="2.2" stroke-linecap="round" stroke-linejoin="round" filter="url(#sb)"/>
<g transform="translate(143.8,845)" filter="url(#mb)"><use href="#m2" fill="url(#mg)"/><use href="#m2" fill="url(#mv)"/></g>
<ellipse cx="143.8" cy="849" rx="2" ry="3" fill="#ececec" filter="url(#sb)"/>
<ellipse cx="93" cy="902" rx="3.5" ry="9" fill="#4a2cc0" fill-opacity="0.9" filter="url(#sb)"/>
<g filter="url(#sb)">
<ellipse cx="86.7" cy="902.4" rx="6" ry="10" fill="#241c98"/>
<ellipse cx="86.7" cy="902.4" rx="5.16" ry="8.6" fill="#1e3cf0"/>
<ellipse cx="86.7" cy="902.4" rx="4.32" ry="7.2" fill="#22c4e6"/>
<ellipse cx="86.7" cy="902.4" rx="3.48" ry="5.8" fill="#40d44c"/>
<ellipse cx="86.7" cy="902.4" rx="2.7" ry="4.5" fill="#f2e22c"/>
<ellipse cx="86.7" cy="902.4" rx="1.92" ry="3.2" fill="#ee2a1e"/>
</g>
<ellipse cx="130" cy="898.7" rx="3" ry="10" fill="#4a2cc0" fill-opacity="0.9" filter="url(#sb)"/>
<g filter="url(#sb)">
<ellipse cx="120.5" cy="898.7" rx="6.3" ry="11" fill="#241c98"/>
<ellipse cx="120.5" cy="898.7" rx="5.42" ry="9.46" fill="#1e3cf0"/>
<ellipse cx="120.5" cy="898.7" rx="4.54" ry="7.92" fill="#22c4e6"/>
<ellipse cx="120.5" cy="898.7" rx="3.65" ry="6.38" fill="#40d44c"/>
<ellipse cx="120.5" cy="898.7" rx="2.83" ry="4.95" fill="#f2e22c"/>
<ellipse cx="120.5" cy="898.7" rx="2.02" ry="3.52" fill="#ee2a1e"/>
</g>
<g filter="url(#sb)">
<ellipse cx="153.4" cy="899" rx="7.4" ry="10.8" fill="#241c98"/>
<ellipse cx="153.4" cy="899" rx="6.36" ry="9.29" fill="#1e3cf0"/>
<ellipse cx="153.4" cy="899" rx="5.33" ry="7.78" fill="#22c4e6"/>
<ellipse cx="153.4" cy="899" rx="4.29" ry="6.26" fill="#40d44c"/>
<ellipse cx="153.4" cy="899" rx="3.33" ry="4.86" fill="#f2e22c"/>
<ellipse cx="153.4" cy="899" rx="2.37" ry="3.46" fill="#ee2a1e"/>
</g>
</svg>
<svg x="171.3" y="844.4" width="96.3" height="92.6" viewBox="171.3 844.4 96.3 92.6" overflow="hidden">
<rect x="171.3" y="844.4" width="96.3" height="92.6" fill="#303235" />
<rect x="187" y="919" width="2.6" height="20" fill="#b4b4b4" />
<polyline points="197.75,913 203.53,923 205.1,928 202.48,931" fill="none" stroke="#9a9a9a" stroke-width="2.2" stroke-linecap="round" stroke-linejoin="round" filter="url(#sb)"/>
<polyline points="178.85,913 173.08,923 171.5,928 174.12,931" fill="none" stroke="#9a9a9a" stroke-width="2.2" stroke-linecap="round" stroke-linejoin="round" filter="url(#sb)"/>
<g transform="translate(188.3,845)" filter="url(#mb)"><use href="#m2" fill="url(#mg)"/><use href="#m2" fill="url(#mv)"/></g>
<ellipse cx="188.3" cy="849" rx="2" ry="3" fill="#ececec" filter="url(#sb)"/>
<rect x="219.7" y="919" width="2.6" height="20" fill="#b4b4b4" />
<polyline points="230.45,913 236.22,923 237.8,928 235.18,931" fill="none" stroke="#9a9a9a" stroke-width="2.2" stroke-linecap="round" stroke-linejoin="round" filter="url(#sb)"/>
<polyline points="211.55,913 205.78,923 204.2,928 206.82,931" fill="none" stroke="#9a9a9a" stroke-width="2.2" stroke-linecap="round" stroke-linejoin="round" filter="url(#sb)"/>
<g transform="translate(221,845)" filter="url(#mb)"><use href="#m2" fill="url(#mg)"/><use href="#m2" fill="url(#mv)"/></g>
<ellipse cx="221" cy="849" rx="2" ry="3" fill="#ececec" filter="url(#sb)"/>
<rect x="250.4" y="919" width="2.6" height="20" fill="#b4b4b4" />
<polyline points="261.15,913 266.93,923 268.5,928 265.88,931" fill="none" stroke="#9a9a9a" stroke-width="2.2" stroke-linecap="round" stroke-linejoin="round" filter="url(#sb)"/>
<polyline points="242.25,913 236.47,923 234.9,928 237.52,931" fill="none" stroke="#9a9a9a" stroke-width="2.2" stroke-linecap="round" stroke-linejoin="round" filter="url(#sb)"/>
<g transform="translate(251.7,845)" filter="url(#mb)"><use href="#m2" fill="url(#mg)"/><use href="#m2" fill="url(#mv)"/></g>
<ellipse cx="251.7" cy="849" rx="2" ry="3" fill="#ececec" filter="url(#sb)"/>
<g filter="url(#sb)">
<ellipse cx="196.2" cy="901.4" rx="4.8" ry="7.4" fill="#241c98"/>
<ellipse cx="196.2" cy="901.4" rx="4.13" ry="6.36" fill="#1e3cf0"/>
<ellipse cx="196.2" cy="901.4" rx="3.46" ry="5.33" fill="#22c4e6"/>
<ellipse cx="196.2" cy="901.4" rx="2.78" ry="4.29" fill="#40d44c"/>
<ellipse cx="196.2" cy="901.4" rx="2.16" ry="3.33" fill="#f2e22c"/>
<ellipse cx="196.2" cy="901.4" rx="1.54" ry="2.37" fill="#ee2a1e"/>
</g>
<ellipse cx="238.8" cy="904.4" rx="2" ry="5.4" fill="#4a2cc0" fill-opacity="0.9" filter="url(#sb)"/>
<g filter="url(#sb)">
<ellipse cx="231.9" cy="902.9" rx="5" ry="6.9" fill="#241c98"/>
<ellipse cx="231.9" cy="902.9" rx="4.3" ry="5.93" fill="#1e3cf0"/>
<ellipse cx="231.9" cy="902.9" rx="3.6" ry="4.97" fill="#22c4e6"/>
<ellipse cx="231.9" cy="902.9" rx="2.9" ry="4" fill="#40d44c"/>
<ellipse cx="231.9" cy="902.9" rx="2.25" ry="3.11" fill="#f2e22c"/>
</g>
<g filter="url(#sb)">
<ellipse cx="261.6" cy="906.1" rx="4.6" ry="6.9" fill="#241c98"/>
<ellipse cx="261.6" cy="906.1" rx="3.96" ry="5.93" fill="#1e3cf0"/>
<ellipse cx="261.6" cy="906.1" rx="3.31" ry="4.97" fill="#22c4e6"/>
<ellipse cx="261.6" cy="906.1" rx="2.67" ry="4" fill="#40d44c"/>
<ellipse cx="261.6" cy="906.1" rx="2.07" ry="3.11" fill="#f2e22c"/>
</g>
</svg>
<svg x="282.3" y="844.4" width="100.7" height="92.6" viewBox="282.3 844.4 100.7 92.6" overflow="hidden">
<rect x="282.3" y="844.4" width="100.7" height="92.6" fill="#303235" />
<rect x="296.7" y="919" width="2.6" height="20" fill="#b4b4b4" />
<polyline points="307.45,913 313.23,923 314.8,928 312.18,931" fill="none" stroke="#9a9a9a" stroke-width="2.2" stroke-linecap="round" stroke-linejoin="round" filter="url(#sb)"/>
<polyline points="288.55,913 282.77,923 281.2,928 283.82,931" fill="none" stroke="#9a9a9a" stroke-width="2.2" stroke-linecap="round" stroke-linejoin="round" filter="url(#sb)"/>
<g transform="translate(298,845)" filter="url(#mb)"><use href="#m2" fill="url(#mg)"/><use href="#m2" fill="url(#mv)"/></g>
<ellipse cx="298" cy="849" rx="2" ry="3" fill="#ececec" filter="url(#sb)"/>
<rect x="332.7" y="919" width="2.6" height="20" fill="#b4b4b4" />
<polyline points="343.45,913 349.23,923 350.8,928 348.18,931" fill="none" stroke="#9a9a9a" stroke-width="2.2" stroke-linecap="round" stroke-linejoin="round" filter="url(#sb)"/>
<polyline points="324.55,913 318.77,923 317.2,928 319.82,931" fill="none" stroke="#9a9a9a" stroke-width="2.2" stroke-linecap="round" stroke-linejoin="round" filter="url(#sb)"/>
<g transform="translate(334,845)" filter="url(#mb)"><use href="#m2" fill="url(#mg)"/><use href="#m2" fill="url(#mv)"/></g>
<ellipse cx="334" cy="849" rx="2" ry="3" fill="#ececec" filter="url(#sb)"/>
<rect x="366.7" y="919" width="2.6" height="20" fill="#b4b4b4" />
<polyline points="377.45,913 383.23,923 384.8,928 382.18,931" fill="none" stroke="#9a9a9a" stroke-width="2.2" stroke-linecap="round" stroke-linejoin="round" filter="url(#sb)"/>
<polyline points="358.55,913 352.77,923 351.2,928 353.82,931" fill="none" stroke="#9a9a9a" stroke-width="2.2" stroke-linecap="round" stroke-linejoin="round" filter="url(#sb)"/>
<g transform="translate(368,845)" filter="url(#mb)"><use href="#m2" fill="url(#mg)"/><use href="#m2" fill="url(#mv)"/></g>
<ellipse cx="368" cy="849" rx="2" ry="3" fill="#ececec" filter="url(#sb)"/>
<ellipse cx="318.7" cy="905" rx="2.7" ry="4.8" fill="#4a2cc0" fill-opacity="0.9" filter="url(#sb)"/>
<g filter="url(#sb)">
<ellipse cx="307.6" cy="906.1" rx="5.3" ry="7.9" fill="#241c98"/>
<ellipse cx="307.6" cy="906.1" rx="4.56" ry="6.79" fill="#1e3cf0"/>
<ellipse cx="307.6" cy="906.1" rx="3.82" ry="5.69" fill="#22c4e6"/>
<ellipse cx="307.6" cy="906.1" rx="3.07" ry="4.58" fill="#40d44c"/>
<ellipse cx="307.6" cy="906.1" rx="2.38" ry="3.56" fill="#f2e22c"/>
<ellipse cx="307.6" cy="906.1" rx="1.7" ry="2.53" fill="#ee2a1e"/>
</g>
<g filter="url(#sb)">
<ellipse cx="344.6" cy="899.7" rx="5.3" ry="7.9" fill="#241c98"/>
<ellipse cx="344.6" cy="899.7" rx="4.56" ry="6.79" fill="#1e3cf0"/>
<ellipse cx="344.6" cy="899.7" rx="3.82" ry="5.69" fill="#22c4e6"/>
<ellipse cx="344.6" cy="899.7" rx="3.07" ry="4.58" fill="#40d44c"/>
<ellipse cx="344.6" cy="899.7" rx="2.38" ry="3.56" fill="#f2e22c"/>
<ellipse cx="344.6" cy="899.7" rx="1.7" ry="2.53" fill="#ee2a1e"/>
</g>
<ellipse cx="357.9" cy="898.7" rx="2.7" ry="5.8" fill="#4a2cc0" fill-opacity="0.9" filter="url(#sb)"/>
<g filter="url(#sb)">
<ellipse cx="378.5" cy="897.7" rx="4.2" ry="10" fill="#241c98"/>
<ellipse cx="378.5" cy="897.7" rx="3.61" ry="8.6" fill="#1e3cf0"/>
<ellipse cx="378.5" cy="897.7" rx="3.02" ry="7.2" fill="#22c4e6"/>
<ellipse cx="378.5" cy="897.7" rx="2.44" ry="5.8" fill="#40d44c"/>
<ellipse cx="378.5" cy="897.7" rx="1.89" ry="4.5" fill="#f2e22c"/>
<ellipse cx="378.5" cy="897.7" rx="1.34" ry="3.2" fill="#ee2a1e"/>
</g>
</svg>
<svg x="394.4" y="844.4" width="107.3" height="92.6" viewBox="394.4 844.4 107.3 92.6" overflow="hidden">
<rect x="394.4" y="844.4" width="107.3" height="92.6" fill="#303235" />
<rect x="407.5" y="919" width="2.6" height="20" fill="#b4b4b4" />
<polyline points="418.25,913 424.03,923 425.6,928 422.98,931" fill="none" stroke="#9a9a9a" stroke-width="2.2" stroke-linecap="round" stroke-linejoin="round" filter="url(#sb)"/>
<polyline points="399.35,913 393.57,923 392,928 394.62,931" fill="none" stroke="#9a9a9a" stroke-width="2.2" stroke-linecap="round" stroke-linejoin="round" filter="url(#sb)"/>
<g transform="translate(408.8,845)" filter="url(#mb)"><use href="#m2" fill="url(#mg)"/><use href="#m2" fill="url(#mv)"/></g>
<ellipse cx="408.8" cy="849" rx="2" ry="3" fill="#ececec" filter="url(#sb)"/>
<rect x="446.2" y="919" width="2.6" height="20" fill="#b4b4b4" />
<polyline points="456.95,913 462.73,923 464.3,928 461.68,931" fill="none" stroke="#9a9a9a" stroke-width="2.2" stroke-linecap="round" stroke-linejoin="round" filter="url(#sb)"/>
<polyline points="438.05,913 432.27,923 430.7,928 433.32,931" fill="none" stroke="#9a9a9a" stroke-width="2.2" stroke-linecap="round" stroke-linejoin="round" filter="url(#sb)"/>
<g transform="translate(447.5,845)" filter="url(#mb)"><use href="#m2" fill="url(#mg)"/><use href="#m2" fill="url(#mv)"/></g>
<ellipse cx="447.5" cy="849" rx="2" ry="3" fill="#ececec" filter="url(#sb)"/>
<rect x="482.7" y="919" width="2.6" height="20" fill="#b4b4b4" />
<polyline points="493.45,913 499.23,923 500.8,928 498.18,931" fill="none" stroke="#9a9a9a" stroke-width="2.2" stroke-linecap="round" stroke-linejoin="round" filter="url(#sb)"/>
<polyline points="474.55,913 468.77,923 467.2,928 469.82,931" fill="none" stroke="#9a9a9a" stroke-width="2.2" stroke-linecap="round" stroke-linejoin="round" filter="url(#sb)"/>
<g transform="translate(484,845)" filter="url(#mb)"><use href="#m2" fill="url(#mg)"/><use href="#m2" fill="url(#mv)"/></g>
<ellipse cx="484" cy="849" rx="2" ry="3" fill="#ececec" filter="url(#sb)"/>
<ellipse cx="418.2" cy="904.2" rx="5" ry="4.4" fill="#4a2cc0" fill-opacity="0.9" filter="url(#sb)"/>
<ellipse cx="457.2" cy="906.4" rx="3.5" ry="3.3" fill="#4a2cc0" fill-opacity="0.9" filter="url(#sb)"/>
<ellipse cx="491.9" cy="909.5" rx="3.1" ry="5.8" fill="#2a36d0" filter="url(#sb)"/>
<ellipse cx="491.9" cy="909.5" rx="1.71" ry="3.19" fill="#3c8cff" filter="url(#sb)"/>
</svg>
</g>
</svg></body></html>
